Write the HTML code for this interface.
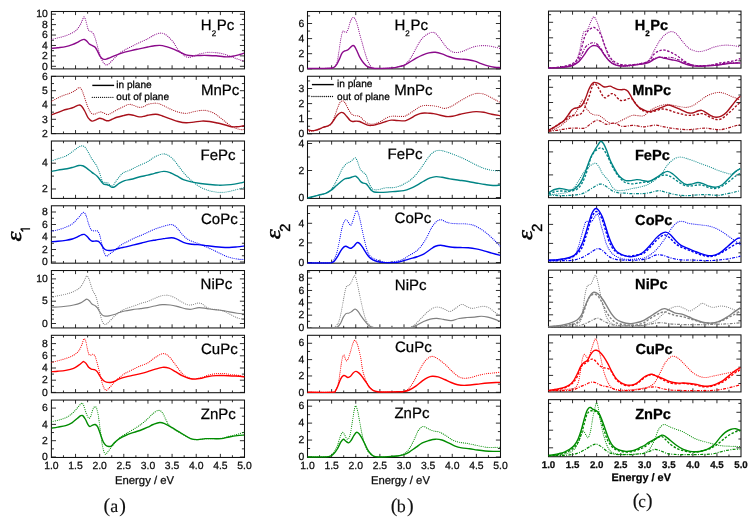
<!DOCTYPE html><html><head><meta charset="utf-8"><style>html,body{margin:0;padding:0;background:#fff;}svg{display:block;will-change:transform;}text{font-family:"Liberation Sans",sans-serif;text-rendering:geometricPrecision;stroke:currentColor;stroke-width:0.25px;}</style></head><body>
<svg width="748" height="517" viewBox="0 0 748 517">
<rect width="748" height="517" fill="#fff"/>
<g stroke="#1a1a1a" stroke-width="0.9">
<path d="M63.47,11.50v2.20M63.47,68.90v-2.20"/>
<path d="M75.54,11.50v3.60M75.54,68.90v-3.60"/>
<path d="M87.61,11.50v2.20M87.61,68.90v-2.20"/>
<path d="M99.67,11.50v3.60M99.67,68.90v-3.60"/>
<path d="M111.74,11.50v2.20M111.74,68.90v-2.20"/>
<path d="M123.81,11.50v3.60M123.81,68.90v-3.60"/>
<path d="M135.88,11.50v2.20M135.88,68.90v-2.20"/>
<path d="M147.95,11.50v3.60M147.95,68.90v-3.60"/>
<path d="M160.02,11.50v2.20M160.02,68.90v-2.20"/>
<path d="M172.09,11.50v3.60M172.09,68.90v-3.60"/>
<path d="M184.16,11.50v2.20M184.16,68.90v-2.20"/>
<path d="M196.22,11.50v3.60M196.22,68.90v-3.60"/>
<path d="M208.29,11.50v2.20M208.29,68.90v-2.20"/>
<path d="M220.36,11.50v3.60M220.36,68.90v-3.60"/>
<path d="M232.43,11.50v2.20M232.43,68.90v-2.20"/>
<path d="M51.40,66.30h4.6M244.50,66.30h-4.6"/>
<path d="M51.40,55.88h4.6M244.50,55.88h-4.6"/>
<path d="M51.40,45.46h4.6M244.50,45.46h-4.6"/>
<path d="M51.40,35.04h4.6M244.50,35.04h-4.6"/>
<path d="M51.40,24.62h4.6M244.50,24.62h-4.6"/>
<path d="M51.40,14.20h4.6M244.50,14.20h-4.6"/>
<path d="M51.40,61.09h2.6M244.50,61.09h-2.6"/>
<path d="M51.40,50.67h2.6M244.50,50.67h-2.6"/>
<path d="M51.40,40.25h2.6M244.50,40.25h-2.6"/>
<path d="M51.40,29.83h2.6M244.50,29.83h-2.6"/>
<path d="M51.40,19.41h2.6M244.50,19.41h-2.6"/>
</g>
<rect x="51.40" y="11.50" width="193.10" height="57.40" fill="none" stroke="#111" stroke-width="1.05"/>
<g clip-path="url(#clipa1)">
<g fill="none" stroke="#8b0a8b" stroke-linejoin="round">
<path d="M51.40,39.44 C52.48,39.18 55.69,38.42 57.86,37.87 C60.03,37.33 62.23,36.89 64.41,36.17 C66.60,35.45 69.00,34.53 70.96,33.55 C72.93,32.57 74.67,31.69 76.20,30.27 C77.73,28.85 79.09,26.78 80.13,25.03 C81.18,23.29 81.84,21.15 82.49,19.79 C83.15,18.44 83.58,17.02 84.06,16.91 C84.54,16.80 84.94,18.00 85.37,19.14 C85.81,20.27 86.25,22.08 86.68,23.72 C87.12,25.36 87.56,27.76 87.99,28.96 C88.43,30.16 88.76,30.49 89.30,30.93 C89.85,31.36 90.61,31.15 91.27,31.58 C91.93,32.02 92.58,32.46 93.24,33.55 C93.89,34.64 94.55,36.17 95.20,38.13 C95.86,40.10 96.51,42.94 97.17,45.34 C97.82,47.74 98.48,50.36 99.13,52.55 C99.79,54.73 100.33,56.69 101.10,58.44 C101.86,60.19 102.84,61.93 103.72,63.03 C104.59,64.12 105.57,64.77 106.34,64.99 C107.10,65.21 107.43,64.99 108.30,64.34 C109.18,63.68 110.38,62.26 111.58,61.06 C112.78,59.86 114.20,58.44 115.51,57.13 C116.82,55.82 117.91,54.40 119.44,53.20 C120.97,52.00 122.71,51.02 124.68,49.93 C126.64,48.83 128.83,47.85 131.23,46.65 C133.63,45.45 136.33,44.03 139.09,42.72 C141.85,41.41 145.45,39.99 147.80,38.79 C150.16,37.59 151.24,36.45 153.24,35.51 C155.24,34.57 157.83,33.37 159.79,33.16 C161.76,32.94 163.29,33.26 165.03,34.20 C166.78,35.14 168.74,37.26 170.27,38.79 C171.80,40.32 173.11,41.85 174.20,43.37 C175.30,44.90 175.73,46.43 176.82,47.96 C177.92,49.49 179.44,51.24 180.75,52.55 C182.06,53.86 183.37,54.99 184.68,55.82 C185.99,56.65 187.30,57.41 188.61,57.52 C189.93,57.63 191.02,56.98 192.55,56.48 C194.07,55.97 196.04,55.06 197.79,54.51 C199.53,53.96 201.06,53.57 203.03,53.20 C204.99,52.83 207.61,52.39 209.58,52.28 C211.54,52.17 213.07,52.39 214.82,52.55 C216.57,52.70 218.31,52.87 220.06,53.20 C221.81,53.53 223.55,53.96 225.30,54.51 C227.05,55.06 228.79,55.82 230.54,56.48 C232.29,57.13 234.14,57.85 235.78,58.44 C237.42,59.03 238.95,59.58 240.37,60.01 C241.79,60.45 243.64,60.89 244.30,61.06" stroke-width="1.15" stroke-dasharray="0.01 2.0" stroke-linecap="round"/>
<path d="M51.40,48.35 C52.48,48.24 55.47,47.98 57.86,47.70 C60.25,47.41 63.32,47.15 65.72,46.65 C68.12,46.15 70.31,45.41 72.27,44.68 C74.24,43.96 75.98,43.09 77.51,42.33 C79.04,41.56 80.31,40.58 81.44,40.10 C82.58,39.62 83.45,39.29 84.33,39.44 C85.20,39.60 85.85,40.25 86.68,41.02 C87.51,41.78 88.43,43.31 89.30,44.03 C90.18,44.75 90.94,44.79 91.93,45.34 C92.91,45.89 94.22,46.21 95.20,47.30 C96.18,48.40 96.99,50.36 97.82,51.89 C98.65,53.42 99.46,55.36 100.18,56.48 C100.90,57.59 101.49,58.09 102.14,58.57 C102.80,59.05 103.41,59.27 104.11,59.36 C104.81,59.45 105.42,59.36 106.34,59.10 C107.25,58.83 108.30,58.33 109.61,57.79 C110.92,57.24 112.56,56.48 114.20,55.82 C115.84,55.17 117.69,54.47 119.44,53.86 C121.19,53.24 122.71,52.70 124.68,52.15 C126.64,51.61 128.83,51.13 131.23,50.58 C133.63,50.03 136.33,49.47 139.09,48.88 C141.85,48.29 145.45,47.52 147.80,47.04 C150.16,46.56 151.24,46.28 153.24,45.99 C155.24,45.71 157.61,45.23 159.79,45.34 C161.98,45.45 164.16,46.06 166.34,46.65 C168.53,47.24 170.71,48.00 172.89,48.88 C175.08,49.75 177.26,50.89 179.44,51.89 C181.63,52.89 183.81,54.25 185.99,54.90 C188.18,55.56 190.14,55.73 192.55,55.82 C194.95,55.91 197.79,55.49 200.41,55.43 C203.03,55.36 205.65,55.36 208.27,55.43 C210.89,55.49 213.51,55.60 216.13,55.82 C218.75,56.04 221.81,56.59 223.99,56.74 C226.17,56.89 227.48,56.89 229.23,56.74 C230.98,56.59 232.72,56.19 234.47,55.82 C236.22,55.45 238.07,54.95 239.71,54.51 C241.35,54.07 243.53,53.42 244.30,53.20" stroke-width="1.4"/>
</g>
</g>
<clipPath id="clipa1"><rect x="51.40" y="10.90" width="193.10" height="58.60"/></clipPath>
<text x="47.80" y="69.50" font-size="10.4" text-anchor="end" fill="#111">0</text>
<text x="47.80" y="59.08" font-size="10.4" text-anchor="end" fill="#111">2</text>
<text x="47.80" y="48.66" font-size="10.4" text-anchor="end" fill="#111">4</text>
<text x="47.80" y="38.24" font-size="10.4" text-anchor="end" fill="#111">6</text>
<text x="47.80" y="27.82" font-size="10.4" text-anchor="end" fill="#111">8</text>
<text x="47.80" y="17.40" font-size="10.4" text-anchor="end" fill="#111">10</text>
<text x="200.80" y="29.90" font-size="15" fill="#000">H<tspan font-size="8" dy="5.8">2</tspan><tspan dy="-5.8" dx="0.6">Pc</tspan></text>
<g stroke="#1a1a1a" stroke-width="0.9">
<path d="M63.47,76.26v2.20M63.47,133.66v-2.20"/>
<path d="M75.54,76.26v3.60M75.54,133.66v-3.60"/>
<path d="M87.61,76.26v2.20M87.61,133.66v-2.20"/>
<path d="M99.67,76.26v3.60M99.67,133.66v-3.60"/>
<path d="M111.74,76.26v2.20M111.74,133.66v-2.20"/>
<path d="M123.81,76.26v3.60M123.81,133.66v-3.60"/>
<path d="M135.88,76.26v2.20M135.88,133.66v-2.20"/>
<path d="M147.95,76.26v3.60M147.95,133.66v-3.60"/>
<path d="M160.02,76.26v2.20M160.02,133.66v-2.20"/>
<path d="M172.09,76.26v3.60M172.09,133.66v-3.60"/>
<path d="M184.16,76.26v2.20M184.16,133.66v-2.20"/>
<path d="M196.22,76.26v3.60M196.22,133.66v-3.60"/>
<path d="M208.29,76.26v2.20M208.29,133.66v-2.20"/>
<path d="M220.36,76.26v3.60M220.36,133.66v-3.60"/>
<path d="M232.43,76.26v2.20M232.43,133.66v-2.20"/>
<path d="M51.40,133.60h4.6M244.50,133.60h-4.6"/>
<path d="M51.40,119.30h4.6M244.50,119.30h-4.6"/>
<path d="M51.40,105.00h4.6M244.50,105.00h-4.6"/>
<path d="M51.40,90.70h4.6M244.50,90.70h-4.6"/>
<path d="M51.40,76.40h4.6M244.50,76.40h-4.6"/>
<path d="M51.40,126.45h2.6M244.50,126.45h-2.6"/>
<path d="M51.40,112.15h2.6M244.50,112.15h-2.6"/>
<path d="M51.40,97.85h2.6M244.50,97.85h-2.6"/>
<path d="M51.40,83.55h2.6M244.50,83.55h-2.6"/>
</g>
<rect x="51.40" y="76.26" width="193.10" height="57.40" fill="none" stroke="#111" stroke-width="1.05"/>
<g clip-path="url(#clipa2)">
<g fill="none" stroke="#a8101a" stroke-linejoin="round">
<path d="M51.40,101.56 C52.26,101.06 54.60,99.55 56.55,98.55 C58.50,97.54 60.92,96.41 63.10,95.53 C65.29,94.66 67.69,94.12 69.65,93.31 C71.62,92.50 73.36,91.63 74.89,90.69 C76.42,89.75 77.73,87.89 78.82,87.67 C79.92,87.46 80.57,88.00 81.44,89.38 C82.32,90.75 83.08,93.20 84.06,95.93 C85.05,98.66 86.25,103.02 87.34,105.75 C88.43,108.48 89.52,110.89 90.61,112.30 C91.71,113.72 92.80,114.16 93.89,114.27 C94.98,114.38 96.07,113.35 97.17,112.96 C98.26,112.57 99.35,111.91 100.44,111.91 C101.53,111.91 102.52,112.50 103.72,112.96 C104.92,113.42 106.34,114.66 107.65,114.66 C108.96,114.66 110.05,113.75 111.58,112.96 C113.11,112.17 115.07,110.89 116.82,109.95 C118.57,109.01 120.09,108.24 122.06,107.33 C124.02,106.41 126.64,104.75 128.61,104.44 C130.57,104.14 132.10,105.01 133.85,105.49 C135.60,105.97 137.34,107.17 139.09,107.33 C140.84,107.48 142.88,106.89 144.33,106.41 C145.78,105.93 145.88,104.99 147.80,104.44 C149.73,103.90 153.43,103.02 155.86,103.13 C158.30,103.24 160.01,104.12 162.41,105.10 C164.81,106.08 167.65,107.87 170.27,109.03 C172.89,110.19 175.51,111.32 178.13,112.04 C180.75,112.76 183.37,113.42 185.99,113.35 C188.61,113.29 191.24,112.15 193.86,111.65 C196.48,111.15 199.53,110.49 201.72,110.34 C203.90,110.19 204.99,110.30 206.96,110.73 C208.92,111.17 211.32,111.82 213.51,112.96 C215.69,114.10 217.88,115.91 220.06,117.55 C222.24,119.18 224.64,121.26 226.61,122.79 C228.57,124.31 230.10,125.73 231.85,126.72 C233.60,127.70 235.56,128.20 237.09,128.68 C238.62,129.16 239.82,129.49 241.02,129.60 C242.22,129.71 243.75,129.38 244.30,129.34" stroke-width="1.15" stroke-dasharray="0.01 2.0" stroke-linecap="round"/>
<path d="M51.40,114.93 C52.26,114.60 54.60,113.72 56.55,112.96 C58.50,112.20 60.92,111.06 63.10,110.34 C65.29,109.62 67.80,109.18 69.65,108.64 C71.51,108.09 72.71,107.65 74.24,107.06 C75.77,106.47 77.62,105.27 78.82,105.10 C80.02,104.92 80.46,105.03 81.44,106.02 C82.43,107.00 83.63,109.07 84.72,110.99 C85.81,112.92 86.79,115.86 87.99,117.55 C89.20,119.23 90.61,120.69 91.93,121.08 C93.24,121.48 94.55,120.38 95.86,119.90 C97.17,119.42 98.48,118.27 99.79,118.20 C101.10,118.14 102.41,119.07 103.72,119.51 C105.03,119.95 106.34,120.82 107.65,120.82 C108.96,120.82 110.05,120.10 111.58,119.51 C113.11,118.92 114.85,117.94 116.82,117.28 C118.78,116.63 121.40,116.04 123.37,115.58 C125.33,115.12 126.86,114.58 128.61,114.53 C130.36,114.49 132.10,114.93 133.85,115.32 C135.60,115.71 137.34,116.74 139.09,116.89 C140.84,117.04 142.88,116.52 144.33,116.24 C145.78,115.95 145.88,115.51 147.80,115.19 C149.73,114.86 153.43,114.14 155.86,114.27 C158.30,114.40 160.01,115.21 162.41,115.97 C164.81,116.74 167.65,117.94 170.27,118.86 C172.89,119.77 175.51,120.82 178.13,121.48 C180.75,122.13 183.37,122.68 185.99,122.79 C188.61,122.90 191.24,122.41 193.86,122.13 C196.48,121.85 199.10,121.19 201.72,121.08 C204.34,120.97 206.96,121.15 209.58,121.48 C212.20,121.80 214.82,122.46 217.44,123.05 C220.06,123.64 222.90,124.40 225.30,125.01 C227.70,125.62 229.89,126.43 231.85,126.72 C233.82,127.00 235.34,126.83 237.09,126.72 C238.84,126.61 241.13,126.24 242.33,126.06 C243.53,125.89 243.97,125.73 244.30,125.67" stroke-width="1.4"/>
</g>
</g>
<clipPath id="clipa2"><rect x="51.40" y="75.66" width="193.10" height="58.60"/></clipPath>
<text x="47.80" y="136.80" font-size="10.4" text-anchor="end" fill="#111">2</text>
<text x="47.80" y="122.50" font-size="10.4" text-anchor="end" fill="#111">3</text>
<text x="47.80" y="108.20" font-size="10.4" text-anchor="end" fill="#111">4</text>
<text x="47.80" y="93.90" font-size="10.4" text-anchor="end" fill="#111">5</text>
<text x="47.80" y="79.60" font-size="10.4" text-anchor="end" fill="#111">6</text>
<text x="200.90" y="94.76" font-size="15" fill="#000">MnPc</text>
<g stroke="#1a1a1a" stroke-width="0.9">
<path d="M63.47,141.02v2.20M63.47,198.42v-2.20"/>
<path d="M75.54,141.02v3.60M75.54,198.42v-3.60"/>
<path d="M87.61,141.02v2.20M87.61,198.42v-2.20"/>
<path d="M99.67,141.02v3.60M99.67,198.42v-3.60"/>
<path d="M111.74,141.02v2.20M111.74,198.42v-2.20"/>
<path d="M123.81,141.02v3.60M123.81,198.42v-3.60"/>
<path d="M135.88,141.02v2.20M135.88,198.42v-2.20"/>
<path d="M147.95,141.02v3.60M147.95,198.42v-3.60"/>
<path d="M160.02,141.02v2.20M160.02,198.42v-2.20"/>
<path d="M172.09,141.02v3.60M172.09,198.42v-3.60"/>
<path d="M184.16,141.02v2.20M184.16,198.42v-2.20"/>
<path d="M196.22,141.02v3.60M196.22,198.42v-3.60"/>
<path d="M208.29,141.02v2.20M208.29,198.42v-2.20"/>
<path d="M220.36,141.02v3.60M220.36,198.42v-3.60"/>
<path d="M232.43,141.02v2.20M232.43,198.42v-2.20"/>
<path d="M51.40,189.00h4.6M244.50,189.00h-4.6"/>
<path d="M51.40,163.20h4.6M244.50,163.20h-4.6"/>
<path d="M51.40,176.10h2.6M244.50,176.10h-2.6"/>
<path d="M51.40,150.30h2.6M244.50,150.30h-2.6"/>
</g>
<rect x="51.40" y="141.02" width="193.10" height="57.40" fill="none" stroke="#111" stroke-width="1.05"/>
<g clip-path="url(#clipa3)">
<g fill="none" stroke="#008585" stroke-linejoin="round">
<path d="M51.40,160.93 C52.48,160.56 55.47,159.51 57.86,158.70 C60.25,157.89 63.32,157.24 65.72,156.08 C68.12,154.92 70.31,153.13 72.27,151.76 C74.24,150.38 75.98,148.81 77.51,147.83 C79.04,146.84 80.24,146.01 81.44,145.86 C82.64,145.71 83.63,145.93 84.72,146.91 C85.81,147.89 86.79,149.75 87.99,151.76 C89.20,153.77 90.51,156.67 91.93,158.96 C93.34,161.26 95.20,163.11 96.51,165.51 C97.82,167.92 98.80,170.75 99.79,173.37 C100.77,175.99 101.53,179.71 102.41,181.24 C103.28,182.76 104.15,182.28 105.03,182.55 C105.90,182.81 106.77,182.37 107.65,182.81 C108.52,183.24 109.44,184.60 110.27,185.17 C111.10,185.73 111.75,186.76 112.63,186.21 C113.50,185.67 114.37,183.48 115.51,181.89 C116.64,180.30 118.13,178.18 119.44,176.65 C120.75,175.12 121.62,173.81 123.37,172.72 C125.12,171.63 127.52,171.19 129.92,170.10 C132.32,169.01 134.80,167.59 137.78,166.17 C140.76,164.75 145.01,163.11 147.80,161.58 C150.60,160.05 152.12,158.26 154.55,157.00 C156.99,155.73 160.23,154.31 162.41,153.98 C164.60,153.66 165.91,154.20 167.65,155.03 C169.40,155.86 171.15,157.22 172.89,158.96 C174.64,160.71 176.39,163.29 178.13,165.51 C179.88,167.74 181.63,170.25 183.37,172.33 C185.12,174.40 186.87,176.26 188.61,177.96 C190.36,179.66 191.89,181.02 193.86,182.55 C195.82,184.07 198.22,185.89 200.41,187.13 C202.59,188.38 204.77,189.25 206.96,190.01 C209.14,190.78 211.11,191.32 213.51,191.72 C215.91,192.11 218.97,192.37 221.37,192.37 C223.77,192.37 225.74,192.09 227.92,191.72 C230.10,191.35 232.29,190.69 234.47,190.14 C236.65,189.60 239.38,188.88 241.02,188.44 C242.66,188.00 243.75,187.68 244.30,187.52" stroke-width="1.15" stroke-dasharray="0.01 2.0" stroke-linecap="round"/>
<path d="M51.40,171.41 C52.48,171.19 55.26,170.54 57.86,170.10 C60.47,169.66 64.41,169.29 67.03,168.79 C69.65,168.29 71.62,167.63 73.58,167.09 C75.55,166.54 77.30,165.73 78.82,165.51 C80.35,165.30 81.44,165.34 82.75,165.78 C84.06,166.21 85.16,167.04 86.68,168.13 C88.21,169.23 90.18,170.97 91.93,172.33 C93.67,173.68 95.64,174.77 97.17,176.26 C98.69,177.74 100.00,179.93 101.10,181.24 C102.19,182.55 102.84,183.57 103.72,184.12 C104.59,184.66 105.46,184.29 106.34,184.51 C107.21,184.73 107.97,184.95 108.96,185.43 C109.94,185.91 111.14,187.26 112.23,187.39 C113.32,187.52 114.31,186.91 115.51,186.21 C116.71,185.52 117.91,184.14 119.44,183.20 C120.97,182.26 122.71,181.24 124.68,180.58 C126.64,179.93 128.83,179.86 131.23,179.27 C133.63,178.68 136.33,177.73 139.09,177.04 C141.85,176.35 145.23,175.75 147.80,175.14 C150.38,174.53 151.90,174.00 154.55,173.37 C157.20,172.75 161.10,171.52 163.72,171.41 C166.34,171.30 168.09,171.95 170.27,172.72 C172.46,173.48 174.64,174.84 176.82,175.99 C179.01,177.15 180.97,178.68 183.37,179.66 C185.78,180.65 188.40,181.26 191.24,181.89 C194.07,182.52 197.35,183.03 200.41,183.46 C203.46,183.90 206.52,184.23 209.58,184.51 C212.63,184.79 215.91,185.10 218.75,185.17 C221.59,185.23 223.99,185.08 226.61,184.90 C229.23,184.73 232.07,184.47 234.47,184.12 C236.87,183.77 239.38,183.18 241.02,182.81 C242.66,182.44 243.75,182.04 244.30,181.89" stroke-width="1.4"/>
</g>
</g>
<clipPath id="clipa3"><rect x="51.40" y="140.42" width="193.10" height="58.60"/></clipPath>
<text x="47.80" y="192.20" font-size="10.4" text-anchor="end" fill="#111">2</text>
<text x="47.80" y="166.40" font-size="10.4" text-anchor="end" fill="#111">4</text>
<text x="200.60" y="159.52" font-size="15" fill="#000">FePc</text>
<g stroke="#1a1a1a" stroke-width="0.9">
<path d="M63.47,205.78v2.20M63.47,263.18v-2.20"/>
<path d="M75.54,205.78v3.60M75.54,263.18v-3.60"/>
<path d="M87.61,205.78v2.20M87.61,263.18v-2.20"/>
<path d="M99.67,205.78v3.60M99.67,263.18v-3.60"/>
<path d="M111.74,205.78v2.20M111.74,263.18v-2.20"/>
<path d="M123.81,205.78v3.60M123.81,263.18v-3.60"/>
<path d="M135.88,205.78v2.20M135.88,263.18v-2.20"/>
<path d="M147.95,205.78v3.60M147.95,263.18v-3.60"/>
<path d="M160.02,205.78v2.20M160.02,263.18v-2.20"/>
<path d="M172.09,205.78v3.60M172.09,263.18v-3.60"/>
<path d="M184.16,205.78v2.20M184.16,263.18v-2.20"/>
<path d="M196.22,205.78v3.60M196.22,263.18v-3.60"/>
<path d="M208.29,205.78v2.20M208.29,263.18v-2.20"/>
<path d="M220.36,205.78v3.60M220.36,263.18v-3.60"/>
<path d="M232.43,205.78v2.20M232.43,263.18v-2.20"/>
<path d="M51.40,262.00h4.6M244.50,262.00h-4.6"/>
<path d="M51.40,249.50h4.6M244.50,249.50h-4.6"/>
<path d="M51.40,237.00h4.6M244.50,237.00h-4.6"/>
<path d="M51.40,224.50h4.6M244.50,224.50h-4.6"/>
<path d="M51.40,212.00h4.6M244.50,212.00h-4.6"/>
<path d="M51.40,255.75h2.6M244.50,255.75h-2.6"/>
<path d="M51.40,243.25h2.6M244.50,243.25h-2.6"/>
<path d="M51.40,230.75h2.6M244.50,230.75h-2.6"/>
<path d="M51.40,218.25h2.6M244.50,218.25h-2.6"/>
</g>
<rect x="51.40" y="205.78" width="193.10" height="57.40" fill="none" stroke="#111" stroke-width="1.05"/>
<g clip-path="url(#clipa4)">
<g fill="none" stroke="#0000f5" stroke-linejoin="round">
<path d="M51.40,231.17 C52.48,230.95 55.47,230.51 57.86,229.86 C60.25,229.20 63.32,228.22 65.72,227.24 C68.12,226.26 70.31,225.38 72.27,223.96 C74.24,222.54 75.98,220.36 77.51,218.72 C79.04,217.08 80.40,215.18 81.44,214.14 C82.49,213.09 83.04,212.21 83.80,212.43 C84.57,212.65 85.22,213.52 86.03,215.45 C86.84,217.37 87.78,221.56 88.65,223.96 C89.52,226.36 90.29,228.70 91.27,229.86 C92.25,231.02 93.56,230.75 94.55,230.91 C95.53,231.06 96.34,230.19 97.17,230.78 C98.00,231.36 98.76,232.30 99.52,234.44 C100.29,236.58 101.05,240.78 101.75,243.61 C102.45,246.45 103.00,249.40 103.72,251.48 C104.44,253.55 105.31,255.45 106.07,256.06 C106.84,256.67 107.39,255.73 108.30,255.14 C109.22,254.55 110.38,253.46 111.58,252.52 C112.78,251.59 113.98,250.73 115.51,249.51 C117.04,248.29 118.78,246.50 120.75,245.19 C122.71,243.88 124.90,242.89 127.30,241.65 C129.70,240.41 132.76,238.81 135.16,237.72 C137.56,236.63 139.60,236.01 141.71,235.10 C143.82,234.19 145.66,233.26 147.80,232.28 C149.94,231.30 152.12,230.15 154.55,229.20 C156.99,228.25 159.79,227.35 162.41,226.58 C165.03,225.82 168.31,224.79 170.27,224.62 C172.24,224.44 172.89,224.77 174.20,225.53 C175.51,226.30 176.82,227.76 178.13,229.20 C179.44,230.64 180.54,232.54 182.06,234.18 C183.59,235.82 185.34,237.72 187.30,239.03 C189.27,240.34 191.67,241.17 193.86,242.04 C196.04,242.92 198.22,243.40 200.41,244.27 C202.59,245.14 204.77,246.30 206.96,247.28 C209.14,248.27 211.32,249.14 213.51,250.17 C215.69,251.19 217.88,252.39 220.06,253.44 C222.24,254.49 224.43,255.65 226.61,256.45 C228.79,257.26 230.98,257.81 233.16,258.29 C235.34,258.77 237.86,259.16 239.71,259.34 C241.57,259.51 243.53,259.34 244.30,259.34" stroke-width="1.15" stroke-dasharray="0.01 2.0" stroke-linecap="round"/>
<path d="M51.40,241.65 C52.48,241.58 55.47,241.48 57.86,241.26 C60.25,241.04 63.32,240.71 65.72,240.34 C68.12,239.97 70.31,239.62 72.27,239.03 C74.24,238.44 75.98,237.50 77.51,236.80 C79.04,236.10 80.31,235.23 81.44,234.84 C82.58,234.44 83.34,234.12 84.33,234.44 C85.31,234.77 86.40,235.93 87.34,236.80 C88.28,237.68 89.09,238.94 89.96,239.68 C90.83,240.43 91.60,241.04 92.58,241.26 C93.56,241.48 94.87,240.97 95.86,240.99 C96.84,241.02 97.60,240.84 98.48,241.39 C99.35,241.93 100.22,243.13 101.10,244.27 C101.97,245.41 102.84,247.22 103.72,248.20 C104.59,249.18 105.25,249.79 106.34,250.17 C107.43,250.54 108.96,250.47 110.27,250.43 C111.58,250.38 112.67,250.27 114.20,249.90 C115.73,249.53 117.47,248.70 119.44,248.20 C121.40,247.70 123.59,247.44 125.99,246.89 C128.39,246.34 131.23,245.58 133.85,244.93 C136.47,244.27 139.39,243.55 141.71,242.96 C144.04,242.37 145.45,241.89 147.80,241.39 C150.16,240.89 153.21,240.41 155.86,239.95 C158.51,239.49 161.10,239.01 163.72,238.64 C166.34,238.27 169.40,237.65 171.58,237.72 C173.77,237.78 174.86,238.27 176.82,239.03 C178.79,239.79 181.19,241.48 183.37,242.30 C185.56,243.13 187.52,243.61 189.93,244.01 C192.33,244.40 195.17,244.40 197.79,244.66 C200.41,244.93 203.03,245.27 205.65,245.58 C208.27,245.89 210.89,246.21 213.51,246.50 C216.13,246.78 218.75,247.11 221.37,247.28 C223.99,247.46 226.61,247.61 229.23,247.55 C231.85,247.48 234.58,247.15 237.09,246.89 C239.60,246.63 243.10,246.13 244.30,245.97" stroke-width="1.4"/>
</g>
</g>
<clipPath id="clipa4"><rect x="51.40" y="205.18" width="193.10" height="58.60"/></clipPath>
<text x="47.80" y="265.20" font-size="10.4" text-anchor="end" fill="#111">0</text>
<text x="47.80" y="252.70" font-size="10.4" text-anchor="end" fill="#111">2</text>
<text x="47.80" y="240.20" font-size="10.4" text-anchor="end" fill="#111">4</text>
<text x="47.80" y="227.70" font-size="10.4" text-anchor="end" fill="#111">6</text>
<text x="47.80" y="215.20" font-size="10.4" text-anchor="end" fill="#111">8</text>
<text x="201.00" y="224.28" font-size="15" fill="#000">CoPc</text>
<g stroke="#1a1a1a" stroke-width="0.9">
<path d="M63.47,270.54v2.20M63.47,327.94v-2.20"/>
<path d="M75.54,270.54v3.60M75.54,327.94v-3.60"/>
<path d="M87.61,270.54v2.20M87.61,327.94v-2.20"/>
<path d="M99.67,270.54v3.60M99.67,327.94v-3.60"/>
<path d="M111.74,270.54v2.20M111.74,327.94v-2.20"/>
<path d="M123.81,270.54v3.60M123.81,327.94v-3.60"/>
<path d="M135.88,270.54v2.20M135.88,327.94v-2.20"/>
<path d="M147.95,270.54v3.60M147.95,327.94v-3.60"/>
<path d="M160.02,270.54v2.20M160.02,327.94v-2.20"/>
<path d="M172.09,270.54v3.60M172.09,327.94v-3.60"/>
<path d="M184.16,270.54v2.20M184.16,327.94v-2.20"/>
<path d="M196.22,270.54v3.60M196.22,327.94v-3.60"/>
<path d="M208.29,270.54v2.20M208.29,327.94v-2.20"/>
<path d="M220.36,270.54v3.60M220.36,327.94v-3.60"/>
<path d="M232.43,270.54v2.20M232.43,327.94v-2.20"/>
<path d="M51.40,323.50h4.6M244.50,323.50h-4.6"/>
<path d="M51.40,301.20h4.6M244.50,301.20h-4.6"/>
<path d="M51.40,278.90h4.6M244.50,278.90h-4.6"/>
<path d="M51.40,319.04h2.6M244.50,319.04h-2.6"/>
<path d="M51.40,314.58h2.6M244.50,314.58h-2.6"/>
<path d="M51.40,310.12h2.6M244.50,310.12h-2.6"/>
<path d="M51.40,305.66h2.6M244.50,305.66h-2.6"/>
<path d="M51.40,296.74h2.6M244.50,296.74h-2.6"/>
<path d="M51.40,292.28h2.6M244.50,292.28h-2.6"/>
<path d="M51.40,287.82h2.6M244.50,287.82h-2.6"/>
<path d="M51.40,283.36h2.6M244.50,283.36h-2.6"/>
<path d="M51.40,274.44h2.6M244.50,274.44h-2.6"/>
</g>
<rect x="51.40" y="270.54" width="193.10" height="57.40" fill="none" stroke="#111" stroke-width="1.05"/>
<g clip-path="url(#clipa5)">
<g fill="none" stroke="#808080" stroke-linejoin="round">
<path d="M51.40,297.09 C52.48,296.87 55.47,296.26 57.86,295.78 C60.25,295.30 63.10,294.90 65.72,294.20 C68.34,293.50 71.18,292.72 73.58,291.58 C75.98,290.45 78.39,289.14 80.13,287.39 C81.88,285.64 82.97,283.02 84.06,281.10 C85.16,279.18 85.85,276.19 86.68,275.86 C87.51,275.53 88.28,277.39 89.04,279.14 C89.81,280.88 90.57,284.27 91.27,286.34 C91.97,288.42 92.51,290.05 93.24,291.58 C93.96,293.11 94.89,293.77 95.59,295.51 C96.29,297.26 96.73,299.23 97.43,302.06 C98.13,304.90 98.96,309.27 99.79,312.55 C100.62,315.82 101.53,319.71 102.41,321.72 C103.28,323.73 104.15,324.38 105.03,324.60 C105.90,324.82 106.56,323.94 107.65,323.03 C108.74,322.11 110.27,320.41 111.58,319.10 C112.89,317.79 113.98,316.48 115.51,315.17 C117.04,313.86 119.00,312.33 120.75,311.24 C122.50,310.14 123.81,309.49 125.99,308.61 C128.17,307.74 131.23,306.91 133.85,305.99 C136.47,305.08 139.39,303.88 141.71,303.11 C144.04,302.35 145.66,302.20 147.80,301.41 C149.94,300.62 152.33,299.31 154.55,298.40 C156.77,297.48 158.92,296.43 161.10,295.91 C163.29,295.38 165.47,294.99 167.65,295.25 C169.84,295.51 172.02,296.45 174.20,297.48 C176.39,298.50 178.57,300.21 180.75,301.41 C182.94,302.61 185.34,304.14 187.30,304.68 C189.27,305.23 190.80,304.95 192.55,304.68 C194.29,304.42 196.26,303.29 197.79,303.11 C199.31,302.94 200.41,303.05 201.72,303.64 C203.03,304.23 204.34,305.82 205.65,306.65 C206.96,307.48 207.61,308.11 209.58,308.61 C211.54,309.12 215.04,309.23 217.44,309.66 C219.84,310.10 221.81,310.43 223.99,311.24 C226.17,312.04 228.36,313.42 230.54,314.51 C232.72,315.60 235.13,317.02 237.09,317.79 C239.06,318.55 241.13,318.88 242.33,319.10 C243.53,319.31 243.97,319.10 244.30,319.10" stroke-width="1.15" stroke-dasharray="0.01 2.05" stroke-linecap="round"/>
<path d="M51.40,307.04 C52.48,307.04 55.47,307.17 57.86,307.04 C60.25,306.91 63.10,306.61 65.72,306.26 C68.34,305.91 71.18,305.47 73.58,304.95 C75.98,304.42 78.39,303.81 80.13,303.11 C81.88,302.41 82.97,301.41 84.06,300.75 C85.16,300.10 85.81,299.18 86.68,299.18 C87.56,299.18 88.43,299.95 89.30,300.75 C90.18,301.56 90.94,303.20 91.93,304.03 C92.91,304.86 94.28,305.08 95.20,305.73 C96.12,306.39 96.66,306.93 97.43,307.96 C98.19,308.99 98.96,310.69 99.79,311.89 C100.62,313.09 101.53,314.47 102.41,315.17 C103.28,315.86 103.93,315.97 105.03,316.08 C106.12,316.19 107.43,316.08 108.96,315.82 C110.49,315.56 112.45,315.06 114.20,314.51 C115.94,313.96 117.69,313.14 119.44,312.55 C121.19,311.96 122.50,311.45 124.68,310.97 C126.86,310.49 129.92,310.06 132.54,309.66 C135.16,309.27 137.86,308.96 140.40,308.61 C142.94,308.27 145.45,308.00 147.80,307.57 C150.16,307.13 152.12,306.48 154.55,305.99 C156.99,305.51 159.79,304.86 162.41,304.68 C165.03,304.51 167.65,304.62 170.27,304.95 C172.89,305.27 175.51,305.99 178.13,306.65 C180.75,307.30 183.81,308.44 185.99,308.88 C188.18,309.31 189.05,309.49 191.24,309.27 C193.42,309.05 196.48,307.68 199.10,307.57 C201.72,307.46 204.34,308.27 206.96,308.61 C209.58,308.96 212.20,309.34 214.82,309.66 C217.44,309.99 220.28,310.21 222.68,310.58 C225.08,310.95 226.83,311.45 229.23,311.89 C231.63,312.33 234.58,312.87 237.09,313.20 C239.60,313.53 243.10,313.75 244.30,313.86" stroke-width="1.15"/>
</g>
</g>
<clipPath id="clipa5"><rect x="51.40" y="269.94" width="193.10" height="58.60"/></clipPath>
<text x="47.80" y="326.70" font-size="10.4" text-anchor="end" fill="#111">0</text>
<text x="47.80" y="304.40" font-size="10.4" text-anchor="end" fill="#111">5</text>
<text x="47.80" y="282.10" font-size="10.4" text-anchor="end" fill="#111">10</text>
<text x="200.60" y="289.04" font-size="15" fill="#000">NiPc</text>
<g stroke="#1a1a1a" stroke-width="0.9">
<path d="M63.47,335.30v2.20M63.47,392.70v-2.20"/>
<path d="M75.54,335.30v3.60M75.54,392.70v-3.60"/>
<path d="M87.61,335.30v2.20M87.61,392.70v-2.20"/>
<path d="M99.67,335.30v3.60M99.67,392.70v-3.60"/>
<path d="M111.74,335.30v2.20M111.74,392.70v-2.20"/>
<path d="M123.81,335.30v3.60M123.81,392.70v-3.60"/>
<path d="M135.88,335.30v2.20M135.88,392.70v-2.20"/>
<path d="M147.95,335.30v3.60M147.95,392.70v-3.60"/>
<path d="M160.02,335.30v2.20M160.02,392.70v-2.20"/>
<path d="M172.09,335.30v3.60M172.09,392.70v-3.60"/>
<path d="M184.16,335.30v2.20M184.16,392.70v-2.20"/>
<path d="M196.22,335.30v3.60M196.22,392.70v-3.60"/>
<path d="M208.29,335.30v2.20M208.29,392.70v-2.20"/>
<path d="M220.36,335.30v3.60M220.36,392.70v-3.60"/>
<path d="M232.43,335.30v2.20M232.43,392.70v-2.20"/>
<path d="M51.40,392.40h4.6M244.50,392.40h-4.6"/>
<path d="M51.40,380.20h4.6M244.50,380.20h-4.6"/>
<path d="M51.40,368.00h4.6M244.50,368.00h-4.6"/>
<path d="M51.40,355.80h4.6M244.50,355.80h-4.6"/>
<path d="M51.40,343.60h4.6M244.50,343.60h-4.6"/>
<path d="M51.40,386.30h2.6M244.50,386.30h-2.6"/>
<path d="M51.40,374.10h2.6M244.50,374.10h-2.6"/>
<path d="M51.40,361.90h2.6M244.50,361.90h-2.6"/>
<path d="M51.40,349.70h2.6M244.50,349.70h-2.6"/>
<path d="M51.40,337.50h2.6M244.50,337.50h-2.6"/>
</g>
<rect x="51.40" y="335.30" width="193.10" height="57.40" fill="none" stroke="#111" stroke-width="1.05"/>
<g clip-path="url(#clipa6)">
<g fill="none" stroke="#ff0000" stroke-linejoin="round">
<path d="M51.40,362.48 C52.48,362.19 55.47,361.43 57.86,360.78 C60.25,360.12 63.10,359.47 65.72,358.55 C68.34,357.63 71.40,356.58 73.58,355.27 C75.77,353.96 77.40,352.54 78.82,350.69 C80.24,348.83 81.27,346.10 82.10,344.14 C82.93,342.17 83.21,339.44 83.80,338.90 C84.39,338.35 85.05,339.22 85.64,340.86 C86.23,342.50 86.77,346.43 87.34,348.72 C87.91,351.01 88.39,353.57 89.04,354.62 C89.70,355.67 90.57,355.08 91.27,355.01 C91.97,354.95 92.58,353.96 93.24,354.22 C93.89,354.49 94.55,355.10 95.20,356.58 C95.86,358.07 96.45,360.51 97.17,363.13 C97.89,365.75 98.76,369.25 99.52,372.30 C100.29,375.36 101.05,378.96 101.75,381.48 C102.45,383.99 103.00,385.89 103.72,387.37 C104.44,388.86 105.31,390.17 106.07,390.39 C106.84,390.60 107.39,389.51 108.30,388.68 C109.22,387.85 110.49,386.61 111.58,385.41 C112.67,384.21 113.54,382.79 114.85,381.48 C116.16,380.17 117.80,378.86 119.44,377.55 C121.08,376.24 122.71,374.82 124.68,373.61 C126.64,372.41 128.83,371.54 131.23,370.34 C133.63,369.14 136.33,367.64 139.09,366.41 C141.85,365.18 145.23,364.36 147.80,362.94 C150.38,361.52 152.12,359.43 154.55,357.89 C156.99,356.35 160.23,354.14 162.41,353.70 C164.60,353.26 165.91,354.03 167.65,355.27 C169.40,356.52 171.15,358.98 172.89,361.17 C174.64,363.35 176.39,366.13 178.13,368.37 C179.88,370.62 181.41,373.03 183.37,374.66 C185.34,376.30 187.96,377.50 189.93,378.20 C191.89,378.90 193.20,378.96 195.17,378.86 C197.13,378.75 199.31,378.24 201.72,377.55 C204.12,376.85 206.96,375.32 209.58,374.66 C212.20,374.01 215.04,373.79 217.44,373.61 C219.84,373.44 221.59,373.44 223.99,373.61 C226.39,373.79 229.23,374.34 231.85,374.66 C234.47,374.99 237.64,375.21 239.71,375.58 C241.79,375.95 243.53,376.67 244.30,376.89" stroke-width="1.15" stroke-dasharray="0.01 2.0" stroke-linecap="round"/>
<path d="M51.40,371.65 C52.48,371.58 55.47,371.48 57.86,371.26 C60.25,371.04 63.10,370.82 65.72,370.34 C68.34,369.86 71.40,369.25 73.58,368.37 C75.77,367.50 77.40,366.08 78.82,365.10 C80.24,364.12 81.27,363.07 82.10,362.48 C82.93,361.89 83.15,361.41 83.80,361.56 C84.46,361.71 85.22,362.43 86.03,363.40 C86.84,364.36 87.78,366.39 88.65,367.33 C89.52,368.27 90.29,368.64 91.27,369.03 C92.25,369.42 93.56,369.25 94.55,369.68 C95.53,370.12 96.18,370.45 97.17,371.65 C98.15,372.85 99.35,375.36 100.44,376.89 C101.53,378.42 102.73,379.95 103.72,380.82 C104.70,381.69 105.25,381.85 106.34,382.13 C107.43,382.41 108.96,382.63 110.27,382.52 C111.58,382.41 112.67,382.09 114.20,381.48 C115.73,380.86 117.47,379.62 119.44,378.86 C121.40,378.09 123.59,377.50 125.99,376.89 C128.39,376.28 131.23,375.78 133.85,375.19 C136.47,374.60 139.39,373.94 141.71,373.35 C144.04,372.76 145.66,372.30 147.80,371.65 C149.94,370.99 152.12,370.14 154.55,369.42 C156.99,368.70 160.01,367.54 162.41,367.33 C164.81,367.11 166.78,367.39 168.96,368.11 C171.15,368.83 173.33,370.41 175.51,371.65 C177.70,372.89 179.88,374.49 182.06,375.58 C184.25,376.67 186.43,377.61 188.61,378.20 C190.80,378.79 192.98,379.12 195.17,379.12 C197.35,379.12 199.53,378.64 201.72,378.20 C203.90,377.76 205.87,376.93 208.27,376.50 C210.67,376.06 213.51,375.73 216.13,375.58 C218.75,375.43 221.37,375.51 223.99,375.58 C226.61,375.65 229.23,375.86 231.85,375.97 C234.47,376.08 237.64,376.08 239.71,376.24 C241.79,376.39 243.53,376.78 244.30,376.89" stroke-width="1.4"/>
</g>
</g>
<clipPath id="clipa6"><rect x="51.40" y="334.70" width="193.10" height="58.60"/></clipPath>
<text x="47.80" y="395.60" font-size="10.4" text-anchor="end" fill="#111">0</text>
<text x="47.80" y="383.40" font-size="10.4" text-anchor="end" fill="#111">2</text>
<text x="47.80" y="371.20" font-size="10.4" text-anchor="end" fill="#111">4</text>
<text x="47.80" y="359.00" font-size="10.4" text-anchor="end" fill="#111">6</text>
<text x="47.80" y="346.80" font-size="10.4" text-anchor="end" fill="#111">8</text>
<text x="201.00" y="353.90" font-size="15" fill="#000">CuPc</text>
<g stroke="#1a1a1a" stroke-width="0.9">
<path d="M63.47,400.06v2.20M63.47,457.46v-2.20"/>
<path d="M75.54,400.06v3.60M75.54,457.46v-3.60"/>
<path d="M87.61,400.06v2.20M87.61,457.46v-2.20"/>
<path d="M99.67,400.06v3.60M99.67,457.46v-3.60"/>
<path d="M111.74,400.06v2.20M111.74,457.46v-2.20"/>
<path d="M123.81,400.06v3.60M123.81,457.46v-3.60"/>
<path d="M135.88,400.06v2.20M135.88,457.46v-2.20"/>
<path d="M147.95,400.06v3.60M147.95,457.46v-3.60"/>
<path d="M160.02,400.06v2.20M160.02,457.46v-2.20"/>
<path d="M172.09,400.06v3.60M172.09,457.46v-3.60"/>
<path d="M184.16,400.06v2.20M184.16,457.46v-2.20"/>
<path d="M196.22,400.06v3.60M196.22,457.46v-3.60"/>
<path d="M208.29,400.06v2.20M208.29,457.46v-2.20"/>
<path d="M220.36,400.06v3.60M220.36,457.46v-3.60"/>
<path d="M232.43,400.06v2.20M232.43,457.46v-2.20"/>
<path d="M51.40,457.00h4.6M244.50,457.00h-4.6"/>
<path d="M51.40,440.70h4.6M244.50,440.70h-4.6"/>
<path d="M51.40,424.40h4.6M244.50,424.40h-4.6"/>
<path d="M51.40,408.10h4.6M244.50,408.10h-4.6"/>
<path d="M51.40,448.85h2.6M244.50,448.85h-2.6"/>
<path d="M51.40,432.55h2.6M244.50,432.55h-2.6"/>
<path d="M51.40,416.25h2.6M244.50,416.25h-2.6"/>
</g>
<rect x="51.40" y="400.06" width="193.10" height="57.40" fill="none" stroke="#111" stroke-width="1.05"/>
<g clip-path="url(#clipa7)">
<g fill="none" stroke="#008c00" stroke-linejoin="round">
<path d="M51.40,421.63 C52.48,421.41 55.47,420.98 57.86,420.32 C60.25,419.67 63.32,418.86 65.72,417.70 C68.12,416.54 70.31,415.04 72.27,413.38 C74.24,411.72 75.98,409.42 77.51,407.74 C79.04,406.06 80.46,403.77 81.44,403.29 C82.43,402.81 82.64,403.29 83.41,404.86 C84.17,406.43 85.16,410.54 86.03,412.72 C86.90,414.91 87.89,417.31 88.65,417.96 C89.41,418.62 89.96,417.96 90.61,416.65 C91.27,415.34 91.93,411.74 92.58,410.10 C93.24,408.46 93.89,407.15 94.55,406.83 C95.20,406.50 95.86,406.50 96.51,408.14 C97.17,409.77 97.82,412.83 98.48,416.65 C99.13,420.47 99.79,426.26 100.44,431.06 C101.10,435.87 101.64,441.65 102.41,445.48 C103.17,449.30 104.15,452.90 105.03,453.99 C105.90,455.08 106.56,453.23 107.65,452.03 C108.74,450.83 110.27,448.42 111.58,446.79 C112.89,445.15 113.98,443.84 115.51,442.20 C117.04,440.56 119.00,438.38 120.75,436.96 C122.50,435.54 123.81,434.99 125.99,433.68 C128.17,432.37 131.23,430.74 133.85,429.10 C136.47,427.46 139.39,425.61 141.71,423.86 C144.04,422.11 145.88,420.36 147.80,418.62 C149.73,416.87 151.46,414.75 153.24,413.38 C155.02,412.00 156.95,410.47 158.48,410.36 C160.01,410.25 161.10,411.02 162.41,412.72 C163.72,414.43 165.25,418.51 166.34,420.58 C167.43,422.66 167.87,423.86 168.96,425.17 C170.05,426.48 171.15,427.24 172.89,428.44 C174.64,429.64 177.26,431.06 179.44,432.37 C181.63,433.68 183.81,435.17 185.99,436.30 C188.18,437.44 190.36,438.64 192.55,439.19 C194.73,439.73 196.91,439.67 199.10,439.58 C201.28,439.49 203.25,438.82 205.65,438.66 C208.05,438.51 210.89,438.73 213.51,438.66 C216.13,438.60 218.75,438.66 221.37,438.27 C223.99,437.88 226.61,436.96 229.23,436.30 C231.85,435.65 234.58,435.04 237.09,434.34 C239.60,433.64 243.10,432.48 244.30,432.11" stroke-width="1.15" stroke-dasharray="0.01 2.0" stroke-linecap="round"/>
<path d="M51.40,428.18 C52.48,428.01 55.47,427.57 57.86,427.13 C60.25,426.70 63.32,426.33 65.72,425.56 C68.12,424.80 70.31,423.77 72.27,422.55 C74.24,421.33 76.09,419.36 77.51,418.22 C78.93,417.09 79.92,416.17 80.79,415.74 C81.66,415.30 81.99,415.01 82.75,415.60 C83.52,416.19 84.50,417.79 85.37,419.27 C86.25,420.76 87.23,423.31 87.99,424.51 C88.76,425.71 89.20,426.37 89.96,426.48 C90.72,426.59 91.71,425.50 92.58,425.17 C93.45,424.84 94.33,424.19 95.20,424.51 C96.07,424.84 96.95,425.50 97.82,427.13 C98.69,428.77 99.57,431.94 100.44,434.34 C101.31,436.74 102.19,439.73 103.06,441.55 C103.93,443.36 104.70,444.38 105.68,445.21 C106.66,446.04 107.97,446.41 108.96,446.52 C109.94,446.63 110.59,446.59 111.58,445.87 C112.56,445.15 113.54,443.40 114.85,442.20 C116.16,441.00 117.58,439.82 119.44,438.66 C121.29,437.51 123.59,436.30 125.99,435.26 C128.39,434.21 131.23,433.29 133.85,432.37 C136.47,431.46 139.39,430.63 141.71,429.75 C144.04,428.88 145.88,428.01 147.80,427.13 C149.73,426.26 151.24,425.28 153.24,424.51 C155.24,423.75 157.83,422.66 159.79,422.55 C161.76,422.44 163.07,423.05 165.03,423.86 C167.00,424.67 169.40,426.15 171.58,427.40 C173.77,428.64 175.95,430.02 178.13,431.33 C180.32,432.64 182.50,433.99 184.68,435.26 C186.87,436.52 189.05,438.20 191.24,438.93 C193.42,439.65 195.38,439.62 197.79,439.58 C200.19,439.54 203.03,438.82 205.65,438.66 C208.27,438.51 210.89,438.66 213.51,438.66 C216.13,438.66 218.75,438.95 221.37,438.66 C223.99,438.38 226.61,437.46 229.23,436.96 C231.85,436.46 234.58,435.98 237.09,435.65 C239.60,435.32 243.10,435.10 244.30,434.99" stroke-width="1.4"/>
</g>
</g>
<clipPath id="clipa7"><rect x="51.40" y="399.46" width="193.10" height="58.60"/></clipPath>
<text x="47.80" y="460.20" font-size="10.4" text-anchor="end" fill="#111">0</text>
<text x="47.80" y="443.90" font-size="10.4" text-anchor="end" fill="#111">2</text>
<text x="47.80" y="427.60" font-size="10.4" text-anchor="end" fill="#111">4</text>
<text x="47.80" y="411.30" font-size="10.4" text-anchor="end" fill="#111">6</text>
<text x="200.80" y="418.56" font-size="15" fill="#000">ZnPc</text>
<text x="51.40" y="469.20" font-size="10.4" text-anchor="middle" fill="#111">1.0</text>
<text x="75.54" y="469.20" font-size="10.4" text-anchor="middle" fill="#111">1.5</text>
<text x="99.67" y="469.20" font-size="10.4" text-anchor="middle" fill="#111">2.0</text>
<text x="123.81" y="469.20" font-size="10.4" text-anchor="middle" fill="#111">2.5</text>
<text x="147.95" y="469.20" font-size="10.4" text-anchor="middle" fill="#111">3.0</text>
<text x="172.09" y="469.20" font-size="10.4" text-anchor="middle" fill="#111">3.5</text>
<text x="196.22" y="469.20" font-size="10.4" text-anchor="middle" fill="#111">4.0</text>
<text x="220.36" y="469.20" font-size="10.4" text-anchor="middle" fill="#111">4.5</text>
<text x="244.50" y="469.20" font-size="10.4" text-anchor="middle" fill="#111">5.0</text>
<g stroke="#1a1a1a" stroke-width="0.9">
<path d="M319.56,11.50v2.20M319.56,68.90v-2.20"/>
<path d="M331.62,11.50v3.60M331.62,68.90v-3.60"/>
<path d="M343.69,11.50v2.20M343.69,68.90v-2.20"/>
<path d="M355.75,11.50v3.60M355.75,68.90v-3.60"/>
<path d="M367.81,11.50v2.20M367.81,68.90v-2.20"/>
<path d="M379.88,11.50v3.60M379.88,68.90v-3.60"/>
<path d="M391.94,11.50v2.20M391.94,68.90v-2.20"/>
<path d="M404.00,11.50v3.60M404.00,68.90v-3.60"/>
<path d="M416.06,11.50v2.20M416.06,68.90v-2.20"/>
<path d="M428.12,11.50v3.60M428.12,68.90v-3.60"/>
<path d="M440.19,11.50v2.20M440.19,68.90v-2.20"/>
<path d="M452.25,11.50v3.60M452.25,68.90v-3.60"/>
<path d="M464.31,11.50v2.20M464.31,68.90v-2.20"/>
<path d="M476.38,11.50v3.60M476.38,68.90v-3.60"/>
<path d="M488.44,11.50v2.20M488.44,68.90v-2.20"/>
<path d="M307.50,68.80h4.6M500.50,68.80h-4.6"/>
<path d="M307.50,53.70h4.6M500.50,53.70h-4.6"/>
<path d="M307.50,38.60h4.6M500.50,38.60h-4.6"/>
<path d="M307.50,23.50h4.6M500.50,23.50h-4.6"/>
<path d="M307.50,61.25h2.6M500.50,61.25h-2.6"/>
<path d="M307.50,46.15h2.6M500.50,46.15h-2.6"/>
<path d="M307.50,31.05h2.6M500.50,31.05h-2.6"/>
<path d="M307.50,15.95h2.6M500.50,15.95h-2.6"/>
</g>
<rect x="307.50" y="11.50" width="193.00" height="57.40" fill="none" stroke="#111" stroke-width="1.05"/>
<g clip-path="url(#clipb1)">
<g fill="none" stroke="#8b0a8b" stroke-linejoin="round">
<path d="M307.50,68.53 C309.43,68.53 315.64,68.57 319.10,68.53 C322.56,68.49 325.87,68.42 328.27,68.27 C330.67,68.11 332.09,68.49 333.51,67.61 C334.93,66.74 335.92,65.54 336.79,63.03 C337.66,60.52 338.10,56.48 338.75,52.55 C339.41,48.61 340.06,42.94 340.72,39.44 C341.37,35.95 342.03,32.85 342.68,31.58 C343.34,30.32 343.99,31.74 344.65,31.84 C345.30,31.95 345.96,32.94 346.61,32.24 C347.27,31.54 347.93,29.51 348.58,27.65 C349.24,25.80 349.78,22.80 350.55,21.10 C351.31,19.40 352.34,17.65 353.17,17.43 C354.00,17.21 354.76,18.31 355.52,19.79 C356.29,21.28 357.05,23.94 357.75,26.34 C358.45,28.74 358.95,31.36 359.72,34.20 C360.48,37.04 361.46,40.32 362.34,43.37 C363.21,46.43 364.08,49.71 364.96,52.55 C365.83,55.38 366.59,58.11 367.58,60.41 C368.56,62.70 369.76,64.99 370.85,66.30 C371.94,67.61 372.71,67.90 374.13,68.27 C375.55,68.64 377.19,68.53 379.37,68.53 C381.55,68.53 384.61,68.42 387.23,68.27 C389.85,68.11 392.91,67.94 395.09,67.61 C397.27,67.28 398.88,66.63 400.33,66.30 C401.78,65.97 402.54,66.41 403.80,65.65 C405.07,64.88 406.70,63.11 407.93,61.72 C409.16,60.32 410.11,59.01 411.21,57.26 C412.30,55.52 413.39,53.27 414.48,51.24 C415.57,49.20 416.66,46.98 417.76,45.08 C418.85,43.18 419.90,41.32 421.03,39.84 C422.17,38.35 423.37,37.19 424.57,36.17 C425.77,35.14 427.04,34.31 428.24,33.68 C429.44,33.05 430.57,32.43 431.78,32.37 C432.98,32.30 433.96,32.11 435.44,33.29 C436.93,34.47 438.94,37.22 440.68,39.44 C442.43,41.67 444.18,44.68 445.93,46.65 C447.67,48.61 449.42,50.25 451.17,51.24 C452.91,52.22 454.44,52.55 456.41,52.55 C458.37,52.55 460.77,51.93 462.96,51.24 C465.14,50.54 467.32,49.18 469.51,48.35 C471.69,47.52 473.88,46.72 476.06,46.26 C478.24,45.80 480.43,45.65 482.61,45.60 C484.79,45.56 486.98,45.71 489.16,45.99 C491.34,46.28 493.86,46.87 495.71,47.30 C497.57,47.74 499.53,48.40 500.30,48.61" stroke-width="1.15" stroke-dasharray="0.01 2.0" stroke-linecap="round"/>
<path d="M307.50,68.53 C309.43,68.53 315.64,68.57 319.10,68.53 C322.56,68.49 325.87,68.42 328.27,68.27 C330.67,68.11 332.09,68.27 333.51,67.61 C334.93,66.96 335.81,65.76 336.79,64.34 C337.77,62.92 338.54,60.95 339.41,59.10 C340.28,57.24 341.16,54.55 342.03,53.20 C342.90,51.85 343.78,51.48 344.65,50.97 C345.52,50.47 346.40,50.69 347.27,50.19 C348.14,49.68 349.02,48.72 349.89,47.96 C350.76,47.20 351.75,45.89 352.51,45.60 C353.27,45.32 353.71,45.32 354.48,46.26 C355.24,47.20 356.22,49.42 357.10,51.24 C357.97,53.05 358.62,55.17 359.72,57.13 C360.81,59.10 362.34,61.43 363.65,63.03 C364.96,64.62 366.05,65.82 367.58,66.70 C369.11,67.57 370.85,67.96 372.82,68.27 C374.78,68.57 376.97,68.53 379.37,68.53 C381.77,68.53 384.61,68.42 387.23,68.27 C389.85,68.11 392.91,67.94 395.09,67.61 C397.27,67.28 398.88,66.67 400.33,66.30 C401.78,65.93 402.32,66.04 403.80,65.39 C405.29,64.73 407.24,63.53 409.24,62.37 C411.24,61.21 413.61,59.64 415.79,58.44 C417.98,57.24 420.16,56.10 422.34,55.17 C424.53,54.23 426.71,53.29 428.89,52.81 C431.08,52.33 433.26,52.11 435.44,52.28 C437.63,52.46 439.81,53.16 441.99,53.86 C444.18,54.55 446.36,55.71 448.55,56.48 C450.73,57.24 452.91,58.00 455.10,58.44 C457.28,58.88 459.46,58.88 461.65,59.10 C463.83,59.31 466.01,59.42 468.20,59.75 C470.38,60.08 472.57,60.41 474.75,61.06 C476.93,61.72 479.12,62.87 481.30,63.68 C483.48,64.49 485.67,65.32 487.85,65.91 C490.03,66.50 492.33,66.94 494.40,67.22 C496.48,67.50 499.31,67.55 500.30,67.61" stroke-width="1.4"/>
</g>
</g>
<clipPath id="clipb1"><rect x="307.50" y="10.90" width="193.00" height="58.60"/></clipPath>
<text x="304.30" y="72.00" font-size="10.4" text-anchor="end" fill="#111">0</text>
<text x="304.30" y="56.90" font-size="10.4" text-anchor="end" fill="#111">2</text>
<text x="304.30" y="41.80" font-size="10.4" text-anchor="end" fill="#111">4</text>
<text x="304.30" y="26.70" font-size="10.4" text-anchor="end" fill="#111">6</text>
<text x="394.50" y="29.70" font-size="15" fill="#000">H<tspan font-size="8" dy="5.8">2</tspan><tspan dy="-5.8" dx="0.6">Pc</tspan></text>
<g stroke="#1a1a1a" stroke-width="0.9">
<path d="M319.56,76.26v2.20M319.56,133.66v-2.20"/>
<path d="M331.62,76.26v3.60M331.62,133.66v-3.60"/>
<path d="M343.69,76.26v2.20M343.69,133.66v-2.20"/>
<path d="M355.75,76.26v3.60M355.75,133.66v-3.60"/>
<path d="M367.81,76.26v2.20M367.81,133.66v-2.20"/>
<path d="M379.88,76.26v3.60M379.88,133.66v-3.60"/>
<path d="M391.94,76.26v2.20M391.94,133.66v-2.20"/>
<path d="M404.00,76.26v3.60M404.00,133.66v-3.60"/>
<path d="M416.06,76.26v2.20M416.06,133.66v-2.20"/>
<path d="M428.12,76.26v3.60M428.12,133.66v-3.60"/>
<path d="M440.19,76.26v2.20M440.19,133.66v-2.20"/>
<path d="M452.25,76.26v3.60M452.25,133.66v-3.60"/>
<path d="M464.31,76.26v2.20M464.31,133.66v-2.20"/>
<path d="M476.38,76.26v3.60M476.38,133.66v-3.60"/>
<path d="M488.44,76.26v2.20M488.44,133.66v-2.20"/>
<path d="M307.50,133.80h4.6M500.50,133.80h-4.6"/>
<path d="M307.50,118.70h4.6M500.50,118.70h-4.6"/>
<path d="M307.50,103.60h4.6M500.50,103.60h-4.6"/>
<path d="M307.50,88.50h4.6M500.50,88.50h-4.6"/>
<path d="M307.50,126.25h2.6M500.50,126.25h-2.6"/>
<path d="M307.50,111.15h2.6M500.50,111.15h-2.6"/>
<path d="M307.50,96.05h2.6M500.50,96.05h-2.6"/>
<path d="M307.50,80.95h2.6M500.50,80.95h-2.6"/>
</g>
<rect x="307.50" y="76.26" width="193.00" height="57.40" fill="none" stroke="#111" stroke-width="1.05"/>
<g clip-path="url(#clipb2)">
<g fill="none" stroke="#a8101a" stroke-linejoin="round">
<path d="M307.50,131.96 C308.12,131.85 309.96,131.56 311.24,131.30 C312.52,131.04 313.86,130.76 315.17,130.39 C316.48,130.01 317.79,129.58 319.10,129.07 C320.41,128.57 321.61,127.87 323.03,127.37 C324.45,126.87 326.31,126.61 327.62,126.06 C328.93,125.52 329.80,125.52 330.89,124.10 C331.98,122.68 333.08,120.17 334.17,117.55 C335.26,114.93 336.46,110.89 337.44,108.37 C338.43,105.86 339.19,103.75 340.06,102.48 C340.94,101.21 341.81,100.67 342.68,100.78 C343.56,100.88 344.43,101.87 345.30,103.13 C346.18,104.40 346.94,106.63 347.93,108.37 C348.91,110.12 350.11,112.41 351.20,113.61 C352.29,114.82 353.27,115.19 354.48,115.58 C355.68,115.97 357.31,115.65 358.41,115.97 C359.50,116.30 359.93,116.63 361.03,117.55 C362.12,118.46 363.65,120.43 364.96,121.48 C366.27,122.52 367.58,123.40 368.89,123.83 C370.20,124.27 371.51,124.21 372.82,124.10 C374.13,123.99 375.44,123.62 376.75,123.18 C378.06,122.74 379.15,122.31 380.68,121.48 C382.21,120.65 384.17,119.07 385.92,118.20 C387.67,117.33 389.20,116.56 391.16,116.24 C393.13,115.91 395.60,116.20 397.71,116.24 C399.82,116.27 402.36,116.56 403.80,116.43 C405.24,116.30 405.17,116.07 406.36,115.45 C407.55,114.83 409.42,113.68 410.94,112.70 C412.47,111.72 414.02,110.56 415.53,109.55 C417.04,108.55 418.50,107.35 419.98,106.67 C421.47,105.99 422.91,105.69 424.44,105.49 C425.97,105.30 427.63,105.43 429.16,105.49 C430.68,105.56 432.19,105.71 433.61,105.89 C435.03,106.06 435.84,106.13 437.67,106.54 C439.51,106.95 442.37,108.40 444.61,108.37 C446.86,108.35 448.98,107.39 451.17,106.41 C453.35,105.43 455.53,103.79 457.72,102.48 C459.90,101.17 461.87,99.86 464.27,98.55 C466.67,97.24 469.73,95.49 472.13,94.62 C474.53,93.74 476.50,93.31 478.68,93.31 C480.86,93.31 483.05,93.85 485.23,94.62 C487.41,95.38 489.82,96.87 491.78,97.89 C493.75,98.92 495.60,100.01 497.02,100.78 C498.44,101.54 499.75,102.19 500.30,102.48" stroke-width="1.15" stroke-dasharray="0.01 2.0" stroke-linecap="round"/>
<path d="M307.50,129.60 C308.12,129.77 309.96,130.52 311.24,130.65 C312.52,130.78 313.86,130.65 315.17,130.39 C316.48,130.12 317.79,129.58 319.10,129.07 C320.41,128.57 321.61,127.87 323.03,127.37 C324.45,126.87 326.31,126.61 327.62,126.06 C328.93,125.52 329.80,125.19 330.89,124.10 C331.98,123.00 333.08,121.04 334.17,119.51 C335.26,117.98 336.35,116.08 337.44,114.93 C338.54,113.77 339.74,112.89 340.72,112.57 C341.70,112.24 342.36,112.35 343.34,112.96 C344.32,113.57 345.52,115.03 346.61,116.24 C347.71,117.44 348.91,119.29 349.89,120.17 C350.87,121.04 351.42,121.32 352.51,121.48 C353.60,121.63 355.24,121.08 356.44,121.08 C357.64,121.08 358.52,121.08 359.72,121.48 C360.92,121.87 362.34,122.83 363.65,123.44 C364.96,124.05 366.27,124.82 367.58,125.14 C368.89,125.47 370.20,125.47 371.51,125.41 C372.82,125.34 373.91,125.08 375.44,124.75 C376.97,124.42 378.93,123.99 380.68,123.44 C382.43,122.90 384.17,122.02 385.92,121.48 C387.67,120.93 389.41,120.34 391.16,120.17 C392.91,119.99 394.29,120.31 396.40,120.43 C398.51,120.55 402.14,120.91 403.80,120.89 C405.46,120.86 405.17,120.74 406.36,120.30 C407.55,119.85 409.42,119.01 410.94,118.20 C412.47,117.39 414.02,116.21 415.53,115.45 C417.04,114.68 418.50,114.03 419.98,113.61 C421.47,113.20 422.91,113.03 424.44,112.96 C425.97,112.89 427.63,113.11 429.16,113.22 C430.68,113.33 432.12,113.37 433.61,113.61 C435.09,113.86 436.01,114.18 438.06,114.66 C440.12,115.14 443.52,116.24 445.93,116.50 C448.33,116.76 450.07,116.61 452.48,116.24 C454.88,115.86 457.72,114.88 460.34,114.27 C462.96,113.66 465.58,113.00 468.20,112.57 C470.82,112.13 473.44,111.69 476.06,111.65 C478.68,111.61 481.30,111.87 483.92,112.30 C486.54,112.74 489.05,113.72 491.78,114.27 C494.51,114.82 498.88,115.36 500.30,115.58" stroke-width="1.4"/>
</g>
</g>
<clipPath id="clipb2"><rect x="307.50" y="75.66" width="193.00" height="58.60"/></clipPath>
<text x="304.30" y="137.00" font-size="10.4" text-anchor="end" fill="#111">0</text>
<text x="304.30" y="121.90" font-size="10.4" text-anchor="end" fill="#111">1</text>
<text x="304.30" y="106.80" font-size="10.4" text-anchor="end" fill="#111">2</text>
<text x="304.30" y="91.70" font-size="10.4" text-anchor="end" fill="#111">3</text>
<text x="394.25" y="94.56" font-size="15" fill="#000">MnPc</text>
<g stroke="#1a1a1a" stroke-width="0.9">
<path d="M319.56,141.02v2.20M319.56,198.42v-2.20"/>
<path d="M331.62,141.02v3.60M331.62,198.42v-3.60"/>
<path d="M343.69,141.02v2.20M343.69,198.42v-2.20"/>
<path d="M355.75,141.02v3.60M355.75,198.42v-3.60"/>
<path d="M367.81,141.02v2.20M367.81,198.42v-2.20"/>
<path d="M379.88,141.02v3.60M379.88,198.42v-3.60"/>
<path d="M391.94,141.02v2.20M391.94,198.42v-2.20"/>
<path d="M404.00,141.02v3.60M404.00,198.42v-3.60"/>
<path d="M416.06,141.02v2.20M416.06,198.42v-2.20"/>
<path d="M428.12,141.02v3.60M428.12,198.42v-3.60"/>
<path d="M440.19,141.02v2.20M440.19,198.42v-2.20"/>
<path d="M452.25,141.02v3.60M452.25,198.42v-3.60"/>
<path d="M464.31,141.02v2.20M464.31,198.42v-2.20"/>
<path d="M476.38,141.02v3.60M476.38,198.42v-3.60"/>
<path d="M488.44,141.02v2.20M488.44,198.42v-2.20"/>
<path d="M307.50,197.50h4.6M500.50,197.50h-4.6"/>
<path d="M307.50,170.50h4.6M500.50,170.50h-4.6"/>
<path d="M307.50,143.50h4.6M500.50,143.50h-4.6"/>
<path d="M307.50,184.00h2.6M500.50,184.00h-2.6"/>
<path d="M307.50,157.00h2.6M500.50,157.00h-2.6"/>
</g>
<rect x="307.50" y="141.02" width="193.00" height="57.40" fill="none" stroke="#111" stroke-width="1.05"/>
<g clip-path="url(#clipb3)">
<g fill="none" stroke="#008585" stroke-linejoin="round">
<path d="M307.50,198.01 C308.34,197.79 310.62,197.20 312.55,196.70 C314.48,196.19 316.92,195.56 319.10,194.99 C321.29,194.42 323.69,194.16 325.65,193.29 C327.62,192.42 329.36,191.32 330.89,189.75 C332.42,188.18 333.51,186.15 334.82,183.86 C336.13,181.56 337.44,178.61 338.75,175.99 C340.06,173.37 341.37,170.21 342.68,168.13 C343.99,166.06 345.30,164.64 346.61,163.55 C347.93,162.46 349.45,162.30 350.55,161.58 C351.64,160.86 352.34,159.84 353.17,159.22 C354.00,158.61 354.76,157.41 355.52,157.91 C356.29,158.42 356.94,160.32 357.75,162.24 C358.56,164.16 359.39,167.70 360.37,169.44 C361.35,171.19 362.66,171.74 363.65,172.72 C364.63,173.70 365.39,173.70 366.27,175.34 C367.14,176.98 368.01,180.47 368.89,182.55 C369.76,184.62 370.63,186.59 371.51,187.79 C372.38,188.99 372.82,189.49 374.13,189.75 C375.44,190.01 377.40,189.69 379.37,189.36 C381.33,189.03 383.52,188.09 385.92,187.79 C388.32,187.48 391.38,187.85 393.78,187.52 C396.18,187.20 398.66,186.41 400.33,185.82 C402.00,185.23 402.10,184.97 403.80,183.99 C405.51,183.00 408.33,181.69 410.55,179.93 C412.77,178.16 414.92,175.99 417.10,173.37 C419.29,170.75 421.47,167.26 423.65,164.20 C425.84,161.15 428.24,157.22 430.20,155.03 C432.17,152.85 433.70,151.87 435.44,151.10 C437.19,150.34 438.72,150.27 440.68,150.45 C442.65,150.62 444.83,151.39 447.24,152.15 C449.64,152.91 452.48,154.01 455.10,155.03 C457.72,156.06 460.34,157.11 462.96,158.31 C465.58,159.51 468.20,160.93 470.82,162.24 C473.44,163.55 476.28,165.08 478.68,166.17 C481.08,167.26 482.83,168.07 485.23,168.79 C487.63,169.51 490.58,170.16 493.09,170.49 C495.60,170.82 499.10,170.71 500.30,170.75" stroke-width="1.15" stroke-dasharray="0.01 2.0" stroke-linecap="round"/>
<path d="M307.50,198.01 C308.34,197.79 310.62,197.20 312.55,196.70 C314.48,196.19 316.92,195.56 319.10,194.99 C321.29,194.42 323.69,194.05 325.65,193.29 C327.62,192.52 329.15,191.65 330.89,190.41 C332.64,189.16 334.39,187.35 336.13,185.82 C337.88,184.29 339.85,182.44 341.37,181.24 C342.90,180.03 343.99,179.16 345.30,178.61 C346.61,178.07 347.93,178.29 349.24,177.96 C350.55,177.63 352.07,176.93 353.17,176.65 C354.26,176.37 354.91,175.93 355.79,176.26 C356.66,176.58 357.53,177.68 358.41,178.61 C359.28,179.55 360.15,181.13 361.03,181.89 C361.90,182.65 362.77,182.87 363.65,183.20 C364.52,183.53 365.39,183.20 366.27,183.86 C367.14,184.51 368.01,186.04 368.89,187.13 C369.76,188.22 370.63,189.60 371.51,190.41 C372.38,191.21 372.82,191.65 374.13,191.98 C375.44,192.31 377.19,192.35 379.37,192.37 C381.55,192.39 384.61,192.26 387.23,192.11 C389.85,191.96 392.33,191.69 395.09,191.45 C397.85,191.21 401.23,191.17 403.80,190.67 C406.38,190.17 408.33,189.36 410.55,188.44 C412.77,187.52 414.92,186.37 417.10,185.17 C419.29,183.96 421.47,182.44 423.65,181.24 C425.84,180.03 428.13,178.72 430.20,177.96 C432.28,177.20 434.13,176.76 436.10,176.65 C438.06,176.54 439.70,176.93 441.99,177.30 C444.29,177.68 447.02,178.40 449.86,178.88 C452.69,179.36 455.97,179.75 459.03,180.19 C462.08,180.62 465.14,181.00 468.20,181.50 C471.25,182.00 474.53,182.70 477.37,183.20 C480.21,183.70 482.61,184.14 485.23,184.51 C487.85,184.88 490.58,185.32 493.09,185.43 C495.60,185.54 499.10,185.21 500.30,185.17" stroke-width="1.4"/>
</g>
</g>
<clipPath id="clipb3"><rect x="307.50" y="140.42" width="193.00" height="58.60"/></clipPath>
<text x="304.30" y="200.70" font-size="10.4" text-anchor="end" fill="#111">0</text>
<text x="304.30" y="173.70" font-size="10.4" text-anchor="end" fill="#111">2</text>
<text x="304.30" y="146.70" font-size="10.4" text-anchor="end" fill="#111">4</text>
<text x="387.60" y="159.22" font-size="15" fill="#000">FePc</text>
<g stroke="#1a1a1a" stroke-width="0.9">
<path d="M319.56,205.78v2.20M319.56,263.18v-2.20"/>
<path d="M331.62,205.78v3.60M331.62,263.18v-3.60"/>
<path d="M343.69,205.78v2.20M343.69,263.18v-2.20"/>
<path d="M355.75,205.78v3.60M355.75,263.18v-3.60"/>
<path d="M367.81,205.78v2.20M367.81,263.18v-2.20"/>
<path d="M379.88,205.78v3.60M379.88,263.18v-3.60"/>
<path d="M391.94,205.78v2.20M391.94,263.18v-2.20"/>
<path d="M404.00,205.78v3.60M404.00,263.18v-3.60"/>
<path d="M416.06,205.78v2.20M416.06,263.18v-2.20"/>
<path d="M428.12,205.78v3.60M428.12,263.18v-3.60"/>
<path d="M440.19,205.78v2.20M440.19,263.18v-2.20"/>
<path d="M452.25,205.78v3.60M452.25,263.18v-3.60"/>
<path d="M464.31,205.78v2.20M464.31,263.18v-2.20"/>
<path d="M476.38,205.78v3.60M476.38,263.18v-3.60"/>
<path d="M488.44,205.78v2.20M488.44,263.18v-2.20"/>
<path d="M307.50,262.50h4.6M500.50,262.50h-4.6"/>
<path d="M307.50,242.90h4.6M500.50,242.90h-4.6"/>
<path d="M307.50,223.30h4.6M500.50,223.30h-4.6"/>
<path d="M307.50,252.70h2.6M500.50,252.70h-2.6"/>
<path d="M307.50,233.10h2.6M500.50,233.10h-2.6"/>
<path d="M307.50,213.50h2.6M500.50,213.50h-2.6"/>
</g>
<rect x="307.50" y="205.78" width="193.00" height="57.40" fill="none" stroke="#111" stroke-width="1.05"/>
<g clip-path="url(#clipb4)">
<g fill="none" stroke="#0000f5" stroke-linejoin="round">
<path d="M307.50,263.01 C309.43,263.01 315.20,263.03 319.10,263.01 C323.00,262.98 328.49,263.27 330.89,262.87 C333.30,262.48 332.53,262.33 333.51,260.65 C334.50,258.97 335.81,256.06 336.79,252.79 C337.77,249.51 338.54,245.14 339.41,240.99 C340.28,236.85 341.16,231.28 342.03,227.89 C342.90,224.51 343.89,222.00 344.65,220.69 C345.41,219.38 345.96,219.70 346.61,220.03 C347.27,220.36 347.93,221.78 348.58,222.65 C349.24,223.53 349.89,225.38 350.55,225.27 C351.20,225.16 351.86,223.64 352.51,222.00 C353.17,220.36 353.82,217.30 354.48,215.45 C355.13,213.59 355.79,211.19 356.44,210.86 C357.10,210.53 357.75,211.73 358.41,213.48 C359.06,215.23 359.72,218.50 360.37,221.34 C361.03,224.18 361.57,227.02 362.34,230.51 C363.10,234.01 364.08,238.81 364.96,242.30 C365.83,245.80 366.59,249.07 367.58,251.48 C368.56,253.88 369.54,255.41 370.85,256.72 C372.16,258.03 373.80,258.57 375.44,259.34 C377.08,260.10 378.93,260.82 380.68,261.30 C382.43,261.78 383.95,262.11 385.92,262.22 C387.89,262.33 390.29,262.22 392.47,261.96 C394.65,261.70 397.13,261.16 399.02,260.65 C400.91,260.13 402.10,259.75 403.80,258.88 C405.51,258.00 407.24,256.64 409.24,255.41 C411.24,254.17 413.83,253.00 415.79,251.48 C417.76,249.95 419.29,248.42 421.03,246.24 C422.78,244.05 424.53,241.43 426.27,238.37 C428.02,235.32 429.77,230.73 431.51,227.89 C433.26,225.05 435.12,222.70 436.75,221.34 C438.39,219.99 439.81,219.66 441.34,219.77 C442.87,219.88 444.29,221.41 445.93,222.00 C447.56,222.59 448.98,223.02 451.17,223.31 C453.35,223.59 456.41,223.59 459.03,223.70 C461.65,223.81 464.49,223.70 466.89,223.96 C469.29,224.22 471.25,224.51 473.44,225.27 C475.62,226.04 477.81,227.24 479.99,228.55 C482.17,229.86 484.36,231.39 486.54,233.13 C488.72,234.88 490.80,236.85 493.09,239.03 C495.38,241.21 499.10,245.03 500.30,246.24" stroke-width="1.15" stroke-dasharray="0.01 2.0" stroke-linecap="round"/>
<path d="M307.50,263.01 C309.43,263.01 315.20,263.03 319.10,263.01 C323.00,262.98 328.38,263.16 330.89,262.87 C333.40,262.59 333.08,262.33 334.17,261.30 C335.26,260.28 336.35,258.46 337.44,256.72 C338.54,254.97 339.63,252.46 340.72,250.82 C341.81,249.18 343.12,247.65 343.99,246.89 C344.87,246.13 345.20,246.13 345.96,246.24 C346.72,246.34 347.71,247.22 348.58,247.55 C349.45,247.87 350.33,248.42 351.20,248.20 C352.07,247.98 352.84,247.17 353.82,246.24 C354.80,245.30 356.11,243.00 357.10,242.57 C358.08,242.13 358.84,242.89 359.72,243.61 C360.59,244.34 361.35,245.47 362.34,246.89 C363.32,248.31 364.52,250.49 365.61,252.13 C366.70,253.77 367.69,255.41 368.89,256.72 C370.09,258.03 371.29,259.16 372.82,259.99 C374.35,260.82 376.09,261.26 378.06,261.70 C380.02,262.13 382.21,262.46 384.61,262.61 C387.01,262.77 390.07,262.72 392.47,262.61 C394.87,262.50 397.13,262.28 399.02,261.96 C400.91,261.63 401.88,261.19 403.80,260.65 C405.73,260.10 408.33,259.34 410.55,258.68 C412.77,258.03 414.92,257.48 417.10,256.72 C419.29,255.95 421.47,255.30 423.65,254.10 C425.84,252.90 428.24,250.82 430.20,249.51 C432.17,248.20 433.70,246.96 435.44,246.24 C437.19,245.51 438.94,245.19 440.68,245.19 C442.43,245.19 443.96,245.89 445.93,246.24 C447.89,246.58 450.07,247.07 452.48,247.28 C454.88,247.50 457.72,247.46 460.34,247.55 C462.96,247.63 465.58,247.59 468.20,247.81 C470.82,248.03 473.44,248.35 476.06,248.86 C478.68,249.36 481.30,250.12 483.92,250.82 C486.54,251.52 489.05,252.28 491.78,253.05 C494.51,253.81 498.88,255.01 500.30,255.41" stroke-width="1.4"/>
</g>
</g>
<clipPath id="clipb4"><rect x="307.50" y="205.18" width="193.00" height="58.60"/></clipPath>
<text x="304.30" y="265.70" font-size="10.4" text-anchor="end" fill="#111">0</text>
<text x="304.30" y="246.10" font-size="10.4" text-anchor="end" fill="#111">2</text>
<text x="304.30" y="226.50" font-size="10.4" text-anchor="end" fill="#111">4</text>
<text x="394.56" y="223.38" font-size="15" fill="#000">CoPc</text>
<g stroke="#1a1a1a" stroke-width="0.9">
<path d="M319.56,270.54v2.20M319.56,327.94v-2.20"/>
<path d="M331.62,270.54v3.60M331.62,327.94v-3.60"/>
<path d="M343.69,270.54v2.20M343.69,327.94v-2.20"/>
<path d="M355.75,270.54v3.60M355.75,327.94v-3.60"/>
<path d="M367.81,270.54v2.20M367.81,327.94v-2.20"/>
<path d="M379.88,270.54v3.60M379.88,327.94v-3.60"/>
<path d="M391.94,270.54v2.20M391.94,327.94v-2.20"/>
<path d="M404.00,270.54v3.60M404.00,327.94v-3.60"/>
<path d="M416.06,270.54v2.20M416.06,327.94v-2.20"/>
<path d="M428.12,270.54v3.60M428.12,327.94v-3.60"/>
<path d="M440.19,270.54v2.20M440.19,327.94v-2.20"/>
<path d="M452.25,270.54v3.60M452.25,327.94v-3.60"/>
<path d="M464.31,270.54v2.20M464.31,327.94v-2.20"/>
<path d="M476.38,270.54v3.60M476.38,327.94v-3.60"/>
<path d="M488.44,270.54v2.20M488.44,327.94v-2.20"/>
<path d="M307.50,327.50h4.6M500.50,327.50h-4.6"/>
<path d="M307.50,315.16h4.6M500.50,315.16h-4.6"/>
<path d="M307.50,302.82h4.6M500.50,302.82h-4.6"/>
<path d="M307.50,290.48h4.6M500.50,290.48h-4.6"/>
<path d="M307.50,278.14h4.6M500.50,278.14h-4.6"/>
<path d="M307.50,321.33h2.6M500.50,321.33h-2.6"/>
<path d="M307.50,308.99h2.6M500.50,308.99h-2.6"/>
<path d="M307.50,296.65h2.6M500.50,296.65h-2.6"/>
<path d="M307.50,284.31h2.6M500.50,284.31h-2.6"/>
<path d="M307.50,271.97h2.6M500.50,271.97h-2.6"/>
</g>
<rect x="307.50" y="270.54" width="193.00" height="57.40" fill="none" stroke="#111" stroke-width="1.05"/>
<g clip-path="url(#clipb5)">
<g fill="none" stroke="#808080" stroke-linejoin="round">
<path d="M307.50,328.01 C311.62,327.94 327.43,328.01 332.20,327.61 C336.98,327.22 335.04,326.63 336.13,325.65 C337.23,324.66 337.88,324.12 338.75,321.72 C339.63,319.31 340.50,315.38 341.37,311.24 C342.25,307.09 343.23,300.75 343.99,296.82 C344.76,292.89 345.30,289.51 345.96,287.65 C346.61,285.80 347.27,286.23 347.93,285.69 C348.58,285.14 349.24,285.14 349.89,284.38 C350.55,283.61 351.14,282.52 351.86,281.10 C352.58,279.68 353.52,276.30 354.21,275.86 C354.91,275.42 355.39,276.52 356.05,278.48 C356.70,280.45 357.42,284.38 358.14,287.65 C358.86,290.93 359.56,294.42 360.37,298.13 C361.18,301.85 362.12,306.43 362.99,309.93 C363.87,313.42 364.74,316.80 365.61,319.10 C366.49,321.39 367.25,322.42 368.23,323.68 C369.22,324.95 370.31,326.04 371.51,326.70 C372.71,327.35 374.13,327.42 375.44,327.61 C376.75,327.81 374.64,327.83 379.37,327.87 C384.10,327.92 398.82,327.92 403.80,327.87 C408.78,327.83 407.46,328.09 409.24,327.61 C411.02,327.13 412.52,326.52 414.48,324.99 C416.45,323.46 418.85,320.62 421.03,318.44 C423.22,316.26 425.40,313.70 427.58,311.89 C429.77,310.08 432.17,308.33 434.13,307.57 C436.10,306.80 437.63,307.02 439.37,307.30 C441.12,307.59 442.87,308.57 444.61,309.27 C446.36,309.97 448.11,311.61 449.86,311.50 C451.60,311.39 453.13,309.79 455.10,308.61 C457.06,307.44 459.68,304.75 461.65,304.42 C463.61,304.09 465.14,305.99 466.89,306.65 C468.63,307.30 470.16,308.29 472.13,308.35 C474.09,308.42 476.71,307.39 478.68,307.04 C480.64,306.69 482.17,306.10 483.92,306.26 C485.67,306.41 487.41,307.02 489.16,307.96 C490.91,308.90 492.55,310.51 494.40,311.89 C496.26,313.27 499.31,315.49 500.30,316.21" stroke-width="1.15" stroke-dasharray="0.01 2.05" stroke-linecap="round"/>
<path d="M307.50,328.01 C311.62,327.98 327.21,328.05 332.20,327.87 C337.19,327.70 336.02,327.77 337.44,326.96 C338.86,326.15 339.74,324.66 340.72,323.03 C341.70,321.39 342.47,318.70 343.34,317.13 C344.21,315.56 345.09,314.25 345.96,313.59 C346.83,312.94 347.71,313.48 348.58,313.20 C349.45,312.92 350.22,312.55 351.20,311.89 C352.18,311.24 353.60,309.64 354.48,309.27 C355.35,308.90 355.79,309.23 356.44,309.66 C357.10,310.10 357.64,310.86 358.41,311.89 C359.17,312.92 360.04,314.40 361.03,315.82 C362.01,317.24 363.21,318.99 364.30,320.41 C365.39,321.83 366.49,323.29 367.58,324.34 C368.67,325.39 369.76,326.15 370.85,326.70 C371.94,327.24 372.71,327.42 374.13,327.61 C375.55,327.81 374.42,327.83 379.37,327.87 C384.31,327.92 398.61,327.92 403.80,327.87 C409.00,327.83 408.33,328.09 410.55,327.61 C412.77,327.13 414.92,326.02 417.10,324.99 C419.29,323.97 421.47,322.44 423.65,321.45 C425.84,320.47 428.02,319.60 430.20,319.10 C432.39,318.59 434.57,318.40 436.75,318.44 C438.94,318.48 440.90,318.99 443.30,319.36 C445.71,319.73 448.55,320.82 451.17,320.67 C453.79,320.52 456.41,318.97 459.03,318.44 C461.65,317.92 464.27,317.74 466.89,317.52 C469.51,317.31 472.35,317.35 474.75,317.13 C477.15,316.91 479.12,316.21 481.30,316.21 C483.48,316.21 485.67,316.65 487.85,317.13 C490.03,317.61 492.33,318.38 494.40,319.10 C496.48,319.82 499.31,321.06 500.30,321.45" stroke-width="1.15"/>
</g>
</g>
<clipPath id="clipb5"><rect x="307.50" y="269.94" width="193.00" height="58.60"/></clipPath>
<text x="304.30" y="330.70" font-size="10.4" text-anchor="end" fill="#111">0</text>
<text x="304.30" y="318.36" font-size="10.4" text-anchor="end" fill="#111">2</text>
<text x="304.30" y="306.02" font-size="10.4" text-anchor="end" fill="#111">4</text>
<text x="304.30" y="293.68" font-size="10.4" text-anchor="end" fill="#111">6</text>
<text x="304.30" y="281.34" font-size="10.4" text-anchor="end" fill="#111">8</text>
<text x="394.86" y="289.54" font-size="15" fill="#000">NiPc</text>
<g stroke="#1a1a1a" stroke-width="0.9">
<path d="M319.56,335.30v2.20M319.56,392.70v-2.20"/>
<path d="M331.62,335.30v3.60M331.62,392.70v-3.60"/>
<path d="M343.69,335.30v2.20M343.69,392.70v-2.20"/>
<path d="M355.75,335.30v3.60M355.75,392.70v-3.60"/>
<path d="M367.81,335.30v2.20M367.81,392.70v-2.20"/>
<path d="M379.88,335.30v3.60M379.88,392.70v-3.60"/>
<path d="M391.94,335.30v2.20M391.94,392.70v-2.20"/>
<path d="M404.00,335.30v3.60M404.00,392.70v-3.60"/>
<path d="M416.06,335.30v2.20M416.06,392.70v-2.20"/>
<path d="M428.12,335.30v3.60M428.12,392.70v-3.60"/>
<path d="M440.19,335.30v2.20M440.19,392.70v-2.20"/>
<path d="M452.25,335.30v3.60M452.25,392.70v-3.60"/>
<path d="M464.31,335.30v2.20M464.31,392.70v-2.20"/>
<path d="M476.38,335.30v3.60M476.38,392.70v-3.60"/>
<path d="M488.44,335.30v2.20M488.44,392.70v-2.20"/>
<path d="M307.50,392.30h4.6M500.50,392.30h-4.6"/>
<path d="M307.50,375.96h4.6M500.50,375.96h-4.6"/>
<path d="M307.50,359.62h4.6M500.50,359.62h-4.6"/>
<path d="M307.50,343.28h4.6M500.50,343.28h-4.6"/>
<path d="M307.50,384.13h2.6M500.50,384.13h-2.6"/>
<path d="M307.50,367.79h2.6M500.50,367.79h-2.6"/>
<path d="M307.50,351.45h2.6M500.50,351.45h-2.6"/>
</g>
<rect x="307.50" y="335.30" width="193.00" height="57.40" fill="none" stroke="#111" stroke-width="1.05"/>
<g clip-path="url(#clipb6)">
<g fill="none" stroke="#ff0000" stroke-linejoin="round">
<path d="M307.50,392.22 C311.62,392.22 327.54,392.48 332.20,392.22 C336.87,391.96 334.50,392.00 335.48,390.65 C336.46,389.29 337.33,387.15 338.10,384.10 C338.86,381.04 339.41,376.45 340.06,372.30 C340.72,368.16 341.37,362.09 342.03,359.20 C342.68,356.32 343.34,354.79 343.99,355.01 C344.65,355.23 345.30,359.81 345.96,360.51 C346.61,361.21 347.16,360.73 347.93,359.20 C348.69,357.67 349.72,353.96 350.55,351.34 C351.38,348.72 352.20,345.34 352.90,343.48 C353.60,341.63 354.08,340.32 354.74,340.21 C355.39,340.10 356.18,341.41 356.83,342.83 C357.49,344.25 358.01,346.21 358.67,348.72 C359.32,351.23 360.15,354.62 360.76,357.89 C361.38,361.17 361.75,365.32 362.34,368.37 C362.93,371.43 363.54,373.83 364.30,376.24 C365.07,378.64 365.94,380.82 366.92,382.79 C367.91,384.75 369.00,386.67 370.20,388.03 C371.40,389.38 372.60,390.25 374.13,390.91 C375.66,391.56 377.19,391.78 379.37,391.96 C381.55,392.13 384.17,392.00 387.23,391.96 C390.29,391.91 394.95,391.75 397.71,391.70 C400.47,391.64 401.88,392.24 403.80,391.63 C405.73,391.02 407.46,389.94 409.24,388.03 C411.02,386.12 412.73,383.22 414.48,380.17 C416.23,377.11 417.98,372.85 419.72,369.68 C421.47,366.52 423.22,363.31 424.96,361.17 C426.71,359.03 428.67,357.57 430.20,356.84 C431.73,356.12 432.61,356.34 434.13,356.84 C435.66,357.35 437.41,358.48 439.37,359.86 C441.34,361.23 443.74,363.13 445.93,365.10 C448.11,367.06 450.29,369.68 452.48,371.65 C454.66,373.61 457.06,375.80 459.03,376.89 C460.99,377.98 462.30,378.09 464.27,378.20 C466.23,378.31 468.63,377.98 470.82,377.55 C473.00,377.11 474.97,376.19 477.37,375.58 C479.77,374.97 482.61,374.31 485.23,373.88 C487.85,373.44 490.58,373.22 493.09,372.96 C495.60,372.70 499.10,372.41 500.30,372.30" stroke-width="1.15" stroke-dasharray="0.01 2.0" stroke-linecap="round"/>
<path d="M307.50,392.22 C311.62,392.22 327.54,392.48 332.20,392.22 C336.87,391.96 334.50,391.78 335.48,390.65 C336.46,389.51 337.23,387.37 338.10,385.41 C338.97,383.44 339.85,380.49 340.72,378.86 C341.59,377.22 342.58,376.06 343.34,375.58 C344.10,375.10 344.54,375.65 345.30,375.97 C346.07,376.30 347.05,377.50 347.93,377.55 C348.80,377.59 349.67,377.00 350.55,376.24 C351.42,375.47 352.29,373.77 353.17,372.96 C354.04,372.15 354.91,371.45 355.79,371.39 C356.66,371.32 357.53,371.93 358.41,372.57 C359.28,373.20 360.15,374.14 361.03,375.19 C361.90,376.24 362.66,377.48 363.65,378.86 C364.63,380.23 365.83,381.91 366.92,383.44 C368.01,384.97 369.00,386.78 370.20,388.03 C371.40,389.27 372.60,390.25 374.13,390.91 C375.66,391.56 377.19,391.78 379.37,391.96 C381.55,392.13 384.17,392.00 387.23,391.96 C390.29,391.91 394.95,391.77 397.71,391.70 C400.47,391.62 401.88,391.78 403.80,391.50 C405.73,391.21 407.24,390.90 409.24,389.99 C411.24,389.09 413.61,387.59 415.79,386.06 C417.98,384.53 420.38,382.24 422.34,380.82 C424.31,379.40 425.95,378.31 427.58,377.55 C429.22,376.78 430.42,376.34 432.17,376.24 C433.92,376.13 435.99,376.34 438.06,376.89 C440.14,377.44 442.43,378.57 444.61,379.51 C446.80,380.45 448.98,381.65 451.17,382.52 C453.35,383.40 455.53,384.27 457.72,384.75 C459.90,385.23 461.87,385.41 464.27,385.41 C466.67,385.41 469.51,385.01 472.13,384.75 C474.75,384.49 477.37,384.12 479.99,383.83 C482.61,383.55 485.23,383.27 487.85,383.05 C490.47,382.83 493.64,382.63 495.71,382.52 C497.79,382.41 499.53,382.41 500.30,382.39" stroke-width="1.4"/>
</g>
</g>
<clipPath id="clipb6"><rect x="307.50" y="334.70" width="193.00" height="58.60"/></clipPath>
<text x="304.30" y="395.50" font-size="10.4" text-anchor="end" fill="#111">0</text>
<text x="304.30" y="379.16" font-size="10.4" text-anchor="end" fill="#111">2</text>
<text x="304.30" y="362.82" font-size="10.4" text-anchor="end" fill="#111">4</text>
<text x="304.30" y="346.48" font-size="10.4" text-anchor="end" fill="#111">6</text>
<text x="394.96" y="352.30" font-size="15" fill="#000">CuPc</text>
<g stroke="#1a1a1a" stroke-width="0.9">
<path d="M319.56,400.06v2.20M319.56,457.46v-2.20"/>
<path d="M331.62,400.06v3.60M331.62,457.46v-3.60"/>
<path d="M343.69,400.06v2.20M343.69,457.46v-2.20"/>
<path d="M355.75,400.06v3.60M355.75,457.46v-3.60"/>
<path d="M367.81,400.06v2.20M367.81,457.46v-2.20"/>
<path d="M379.88,400.06v3.60M379.88,457.46v-3.60"/>
<path d="M391.94,400.06v2.20M391.94,457.46v-2.20"/>
<path d="M404.00,400.06v3.60M404.00,457.46v-3.60"/>
<path d="M416.06,400.06v2.20M416.06,457.46v-2.20"/>
<path d="M428.12,400.06v3.60M428.12,457.46v-3.60"/>
<path d="M440.19,400.06v2.20M440.19,457.46v-2.20"/>
<path d="M452.25,400.06v3.60M452.25,457.46v-3.60"/>
<path d="M464.31,400.06v2.20M464.31,457.46v-2.20"/>
<path d="M476.38,400.06v3.60M476.38,457.46v-3.60"/>
<path d="M488.44,400.06v2.20M488.44,457.46v-2.20"/>
<path d="M307.50,457.00h4.6M500.50,457.00h-4.6"/>
<path d="M307.50,440.06h4.6M500.50,440.06h-4.6"/>
<path d="M307.50,423.12h4.6M500.50,423.12h-4.6"/>
<path d="M307.50,406.18h4.6M500.50,406.18h-4.6"/>
<path d="M307.50,448.53h2.6M500.50,448.53h-2.6"/>
<path d="M307.50,431.59h2.6M500.50,431.59h-2.6"/>
<path d="M307.50,414.65h2.6M500.50,414.65h-2.6"/>
</g>
<rect x="307.50" y="400.06" width="193.00" height="57.40" fill="none" stroke="#111" stroke-width="1.05"/>
<g clip-path="url(#clipb7)">
<g fill="none" stroke="#008c00" stroke-linejoin="round">
<path d="M307.50,457.01 C310.53,456.98 321.75,457.09 325.65,456.87 C329.55,456.66 329.47,456.50 330.89,455.70 C332.31,454.89 333.08,453.73 334.17,452.03 C335.26,450.32 336.42,448.10 337.44,445.48 C338.47,442.86 339.45,438.49 340.33,436.30 C341.20,434.12 341.90,432.48 342.68,432.37 C343.47,432.27 344.28,434.51 345.04,435.65 C345.81,436.79 346.46,439.19 347.27,439.19 C348.08,439.19 349.02,438.75 349.89,435.65 C350.76,432.55 351.75,425.06 352.51,420.58 C353.27,416.11 353.93,411.24 354.48,408.79 C355.02,406.35 355.24,405.47 355.79,405.91 C356.33,406.35 357.10,408.75 357.75,411.41 C358.41,414.08 359.06,418.40 359.72,421.89 C360.37,425.39 360.92,428.88 361.68,432.37 C362.45,435.87 363.32,439.80 364.30,442.86 C365.28,445.91 366.38,448.75 367.58,450.72 C368.78,452.68 370.20,453.66 371.51,454.65 C372.82,455.63 373.25,456.24 375.44,456.61 C377.62,456.98 380.90,457.03 384.61,456.87 C388.32,456.72 394.51,456.18 397.71,455.70 C400.91,455.21 401.88,455.15 403.80,453.99 C405.73,452.83 407.46,451.26 409.24,448.75 C411.02,446.24 412.95,441.98 414.48,438.93 C416.01,435.87 416.99,432.48 418.41,430.41 C419.83,428.33 421.47,426.81 423.00,426.48 C424.53,426.15 425.95,427.72 427.58,428.44 C429.22,429.16 430.86,430.19 432.82,430.80 C434.79,431.41 437.19,431.30 439.37,432.11 C441.56,432.92 443.74,434.34 445.93,435.65 C448.11,436.96 450.29,438.88 452.48,439.97 C454.66,441.07 456.84,441.68 459.03,442.20 C461.21,442.72 463.39,442.75 465.58,443.12 C467.76,443.49 469.73,443.93 472.13,444.43 C474.53,444.93 477.37,445.63 479.99,446.13 C482.61,446.63 485.45,447.22 487.85,447.44 C490.25,447.66 492.33,447.48 494.40,447.44 C496.48,447.40 499.31,447.22 500.30,447.18" stroke-width="1.15" stroke-dasharray="0.01 2.0" stroke-linecap="round"/>
<path d="M307.50,457.01 C310.53,456.98 321.75,457.05 325.65,456.87 C329.55,456.70 329.47,456.55 330.89,455.96 C332.31,455.37 333.08,454.54 334.17,453.34 C335.26,452.14 336.35,450.61 337.44,448.75 C338.54,446.90 339.74,443.79 340.72,442.20 C341.70,440.61 342.47,439.34 343.34,439.19 C344.21,439.03 345.09,440.67 345.96,441.28 C346.83,441.89 347.71,443.03 348.58,442.86 C349.45,442.68 350.33,441.44 351.20,440.24 C352.07,439.03 352.95,436.96 353.82,435.65 C354.69,434.34 355.57,432.70 356.44,432.37 C357.31,432.05 358.19,432.81 359.06,433.68 C359.93,434.56 360.70,435.87 361.68,437.61 C362.66,439.36 363.87,441.98 364.96,444.17 C366.05,446.35 367.14,448.97 368.23,450.72 C369.32,452.46 370.31,453.66 371.51,454.65 C372.71,455.63 373.25,456.24 375.44,456.61 C377.62,456.98 380.90,456.98 384.61,456.87 C388.32,456.77 394.51,456.33 397.71,455.96 C400.91,455.59 401.88,455.30 403.80,454.65 C405.73,453.99 407.24,453.23 409.24,452.03 C411.24,450.83 413.61,448.97 415.79,447.44 C417.98,445.91 420.16,444.01 422.34,442.86 C424.53,441.70 426.71,441.11 428.89,440.50 C431.08,439.89 433.26,439.27 435.44,439.19 C437.63,439.10 439.81,439.36 441.99,439.97 C444.18,440.58 446.36,441.83 448.55,442.86 C450.73,443.88 452.91,445.30 455.10,446.13 C457.28,446.96 459.25,447.40 461.65,447.83 C464.05,448.27 466.89,448.38 469.51,448.75 C472.13,449.12 474.75,449.69 477.37,450.06 C479.99,450.43 482.61,450.76 485.23,450.98 C487.85,451.20 490.58,451.31 493.09,451.37 C495.60,451.44 499.10,451.37 500.30,451.37" stroke-width="1.4"/>
</g>
</g>
<clipPath id="clipb7"><rect x="307.50" y="399.46" width="193.00" height="58.60"/></clipPath>
<text x="304.30" y="460.20" font-size="10.4" text-anchor="end" fill="#111">0</text>
<text x="304.30" y="443.26" font-size="10.4" text-anchor="end" fill="#111">2</text>
<text x="304.30" y="426.32" font-size="10.4" text-anchor="end" fill="#111">4</text>
<text x="304.30" y="409.38" font-size="10.4" text-anchor="end" fill="#111">6</text>
<text x="394.40" y="418.36" font-size="15" fill="#000">ZnPc</text>
<text x="307.50" y="469.20" font-size="10.4" text-anchor="middle" fill="#111">1.0</text>
<text x="331.62" y="469.20" font-size="10.4" text-anchor="middle" fill="#111">1.5</text>
<text x="355.75" y="469.20" font-size="10.4" text-anchor="middle" fill="#111">2.0</text>
<text x="379.88" y="469.20" font-size="10.4" text-anchor="middle" fill="#111">2.5</text>
<text x="404.00" y="469.20" font-size="10.4" text-anchor="middle" fill="#111">3.0</text>
<text x="428.12" y="469.20" font-size="10.4" text-anchor="middle" fill="#111">3.5</text>
<text x="452.25" y="469.20" font-size="10.4" text-anchor="middle" fill="#111">4.0</text>
<text x="476.38" y="469.20" font-size="10.4" text-anchor="middle" fill="#111">4.5</text>
<text x="500.50" y="469.20" font-size="10.4" text-anchor="middle" fill="#111">5.0</text>
<g stroke="#1a1a1a" stroke-width="0.9">
<path d="M560.53,11.10v2.20M560.53,68.15v-2.20"/>
<path d="M572.56,11.10v3.60M572.56,68.15v-3.60"/>
<path d="M584.59,11.10v2.20M584.59,68.15v-2.20"/>
<path d="M596.62,11.10v3.60M596.62,68.15v-3.60"/>
<path d="M608.66,11.10v2.20M608.66,68.15v-2.20"/>
<path d="M620.69,11.10v3.60M620.69,68.15v-3.60"/>
<path d="M632.72,11.10v2.20M632.72,68.15v-2.20"/>
<path d="M644.75,11.10v3.60M644.75,68.15v-3.60"/>
<path d="M656.78,11.10v2.20M656.78,68.15v-2.20"/>
<path d="M668.81,11.10v3.60M668.81,68.15v-3.60"/>
<path d="M680.84,11.10v2.20M680.84,68.15v-2.20"/>
<path d="M692.88,11.10v3.60M692.88,68.15v-3.60"/>
<path d="M704.91,11.10v2.20M704.91,68.15v-2.20"/>
<path d="M716.94,11.10v3.60M716.94,68.15v-3.60"/>
<path d="M728.97,11.10v2.20M728.97,68.15v-2.20"/>
<path d="M548.50,22.30h4.6M741.00,22.30h-4.6"/>
<path d="M548.50,37.80h4.6M741.00,37.80h-4.6"/>
<path d="M548.50,53.10h4.6M741.00,53.10h-4.6"/>
<path d="M548.50,14.70h2.6M741.00,14.70h-2.6"/>
<path d="M548.50,30.00h2.6M741.00,30.00h-2.6"/>
<path d="M548.50,45.30h2.6M741.00,45.30h-2.6"/>
<path d="M548.50,60.80h2.6M741.00,60.80h-2.6"/>
</g>
<rect x="548.50" y="11.10" width="192.50" height="57.05" fill="none" stroke="#111" stroke-width="1.05"/>
<g clip-path="url(#clipc1)">
<g fill="none" stroke="#8b0a8b" stroke-linejoin="round">
<path d="M548.62,68.01 C550.37,67.87 556.04,67.50 559.10,67.22 C562.16,66.94 564.56,66.78 566.96,66.30 C569.36,65.82 571.77,65.76 573.51,64.34 C575.26,62.92 576.35,60.41 577.44,57.79 C578.54,55.17 579.30,51.89 580.06,48.61 C580.83,45.34 581.37,40.97 582.03,38.13 C582.68,35.30 583.34,32.72 583.99,31.58 C584.65,30.45 585.30,31.76 585.96,31.32 C586.61,30.88 587.16,30.45 587.93,28.96 C588.69,27.48 589.67,24.38 590.55,22.41 C591.42,20.45 592.40,17.94 593.17,17.17 C593.93,16.41 594.37,16.73 595.13,17.83 C595.90,18.92 596.88,21.43 597.75,23.72 C598.62,26.01 599.50,28.74 600.37,31.58 C601.25,34.42 602.12,37.92 602.99,40.75 C603.87,43.59 604.63,45.99 605.61,48.61 C606.59,51.24 607.69,54.29 608.89,56.48 C610.09,58.66 611.29,60.19 612.82,61.72 C614.35,63.25 616.09,64.88 618.06,65.65 C620.02,66.41 622.43,66.30 624.61,66.30 C626.79,66.30 628.98,65.93 631.16,65.65 C633.34,65.36 635.60,64.98 637.71,64.60 C639.82,64.22 641.88,64.16 643.80,63.35 C645.73,62.55 647.46,61.99 649.24,59.75 C651.02,57.51 652.73,53.09 654.48,49.93 C656.23,46.76 657.87,43.37 659.72,40.75 C661.58,38.13 663.65,35.73 665.62,34.20 C667.58,32.67 669.66,31.58 671.51,31.58 C673.37,31.58 675.01,32.67 676.75,34.20 C678.50,35.73 680.03,38.46 681.99,40.75 C683.96,43.05 686.36,46.26 688.55,47.96 C690.73,49.66 693.13,50.38 695.10,50.97 C697.06,51.56 698.37,51.67 700.34,51.50 C702.30,51.32 704.70,50.62 706.89,49.93 C709.07,49.23 711.25,48.00 713.44,47.30 C715.62,46.61 717.81,46.10 719.99,45.73 C722.17,45.36 724.36,45.10 726.54,45.08 C728.72,45.06 730.80,45.30 733.09,45.60 C735.38,45.91 739.10,46.69 740.30,46.91" stroke-width="1.15" stroke-dasharray="0.01 2.05" stroke-linecap="round"/>
<path d="M548.62,68.01 C550.37,67.94 556.04,67.83 559.10,67.61 C562.16,67.39 564.56,67.13 566.96,66.70 C569.36,66.26 571.66,65.93 573.51,64.99 C575.37,64.05 576.68,62.92 578.10,61.06 C579.52,59.21 580.83,56.15 582.03,53.86 C583.23,51.56 584.10,48.94 585.30,47.30 C586.51,45.67 588.03,44.79 589.24,44.03 C590.44,43.27 591.53,42.87 592.51,42.72 C593.49,42.57 594.15,42.68 595.13,43.11 C596.11,43.55 597.31,44.20 598.41,45.34 C599.50,46.48 600.59,48.29 601.68,49.93 C602.77,51.56 603.76,53.42 604.96,55.17 C606.16,56.91 607.58,58.99 608.89,60.41 C610.20,61.83 611.29,62.85 612.82,63.68 C614.35,64.51 616.09,65.06 618.06,65.39 C620.02,65.71 622.43,65.71 624.61,65.65 C626.79,65.58 628.98,65.25 631.16,64.99 C633.34,64.73 635.60,64.40 637.71,64.07 C639.82,63.75 641.88,63.42 643.80,63.03 C645.73,62.63 647.46,62.48 649.24,61.72 C651.02,60.95 652.73,59.21 654.48,58.44 C656.23,57.68 657.98,57.28 659.72,57.13 C661.47,56.98 663.00,57.46 664.96,57.52 C666.93,57.59 669.55,57.26 671.51,57.52 C673.48,57.79 674.79,58.40 676.75,59.10 C678.72,59.80 681.12,60.84 683.30,61.72 C685.49,62.59 687.67,63.68 689.86,64.34 C692.04,64.99 694.00,65.43 696.41,65.65 C698.81,65.87 701.65,65.73 704.27,65.65 C706.89,65.56 709.51,65.39 712.13,65.12 C714.75,64.86 717.37,64.42 719.99,64.07 C722.61,63.73 725.23,63.25 727.85,63.03 C730.47,62.81 733.64,62.76 735.71,62.76 C737.79,62.76 739.53,62.98 740.30,63.03" stroke-width="1.2" stroke-dasharray="3 1.3 1 1.3"/>
<path d="M548.62,68.01 C550.37,67.87 556.04,67.61 559.10,67.22 C562.16,66.83 564.56,66.35 566.96,65.65 C569.36,64.95 571.66,64.23 573.51,63.03 C575.37,61.83 576.79,60.84 578.10,58.44 C579.41,56.04 580.28,52.22 581.37,48.61 C582.47,45.01 583.56,39.77 584.65,36.82 C585.74,33.88 586.83,32.35 587.93,30.93 C589.02,29.51 590.22,28.90 591.20,28.31 C592.18,27.72 592.95,27.28 593.82,27.39 C594.69,27.50 595.57,28.26 596.44,28.96 C597.31,29.66 598.19,30.27 599.06,31.58 C599.93,32.89 600.70,34.42 601.68,36.82 C602.66,39.23 603.76,42.94 604.96,45.99 C606.16,49.05 607.58,52.76 608.89,55.17 C610.20,57.57 611.29,58.99 612.82,60.41 C614.35,61.83 616.09,62.92 618.06,63.68 C620.02,64.45 622.43,64.77 624.61,64.99 C626.79,65.21 628.98,65.10 631.16,64.99 C633.34,64.88 635.60,64.69 637.71,64.34 C639.82,63.99 641.88,63.55 643.80,62.90 C645.73,62.24 647.46,61.91 649.24,60.41 C651.02,58.90 652.73,55.49 654.48,53.86 C656.23,52.22 657.98,51.19 659.72,50.58 C661.47,49.97 663.00,49.86 664.96,50.19 C666.93,50.51 669.33,51.50 671.51,52.55 C673.70,53.59 676.10,55.17 678.06,56.48 C680.03,57.79 681.34,59.10 683.30,60.41 C685.27,61.72 687.67,63.46 689.86,64.34 C692.04,65.21 694.00,65.43 696.41,65.65 C698.81,65.87 701.65,65.76 704.27,65.65 C706.89,65.54 709.51,65.43 712.13,64.99 C714.75,64.56 717.37,63.53 719.99,63.03 C722.61,62.52 725.23,62.42 727.85,61.98 C730.47,61.54 733.64,61.00 735.71,60.41 C737.79,59.82 739.53,58.77 740.30,58.44" stroke-width="1.35" stroke-dasharray="2.4 1.6"/>
<path d="M548.62,68.01 C550.37,67.94 556.04,67.83 559.10,67.61 C562.16,67.39 564.56,67.13 566.96,66.70 C569.36,66.26 571.55,65.82 573.51,64.99 C575.48,64.16 577.01,63.35 578.75,61.72 C580.50,60.08 582.47,57.24 583.99,55.17 C585.52,53.09 586.61,50.80 587.93,49.27 C589.24,47.74 590.76,46.61 591.86,45.99 C592.95,45.38 593.49,45.54 594.48,45.60 C595.46,45.67 596.66,45.67 597.75,46.39 C598.84,47.11 599.83,48.35 601.03,49.93 C602.23,51.50 603.65,54.07 604.96,55.82 C606.27,57.57 607.58,59.10 608.89,60.41 C610.20,61.72 611.29,62.81 612.82,63.68 C614.35,64.56 616.09,65.25 618.06,65.65 C620.02,66.04 622.43,66.08 624.61,66.04 C626.79,66.00 628.98,65.63 631.16,65.39 C633.34,65.14 635.60,64.85 637.71,64.60 C639.82,64.35 641.88,64.25 643.80,63.88 C645.73,63.51 647.46,63.17 649.24,62.37 C651.02,61.57 652.73,59.97 654.48,59.10 C656.23,58.22 657.98,57.24 659.72,57.13 C661.47,57.02 663.00,58.00 664.96,58.44 C666.93,58.88 669.33,59.31 671.51,59.75 C673.70,60.19 675.88,60.41 678.06,61.06 C680.25,61.72 682.43,62.92 684.61,63.68 C686.80,64.45 688.76,65.21 691.17,65.65 C693.57,66.08 696.41,66.26 699.03,66.30 C701.65,66.35 704.27,66.06 706.89,65.91 C709.51,65.76 712.13,65.65 714.75,65.39 C717.37,65.12 719.99,64.69 722.61,64.34 C725.23,63.99 727.52,63.51 730.47,63.29 C733.42,63.07 738.66,63.07 740.30,63.03" stroke-width="1.4"/>
</g>
</g>
<clipPath id="clipc1"><rect x="548.50" y="10.50" width="192.50" height="58.25"/></clipPath>
<text x="634.70" y="30.10" font-size="14.6" font-weight="bold" fill="#000">H<tspan font-size="8" dy="5.8">2</tspan><tspan dy="-5.8" dx="0.6">Pc</tspan></text>
<g stroke="#1a1a1a" stroke-width="0.9">
<path d="M560.53,75.86v2.20M560.53,132.91v-2.20"/>
<path d="M572.56,75.86v3.60M572.56,132.91v-3.60"/>
<path d="M584.59,75.86v2.20M584.59,132.91v-2.20"/>
<path d="M596.62,75.86v3.60M596.62,132.91v-3.60"/>
<path d="M608.66,75.86v2.20M608.66,132.91v-2.20"/>
<path d="M620.69,75.86v3.60M620.69,132.91v-3.60"/>
<path d="M632.72,75.86v2.20M632.72,132.91v-2.20"/>
<path d="M644.75,75.86v3.60M644.75,132.91v-3.60"/>
<path d="M656.78,75.86v2.20M656.78,132.91v-2.20"/>
<path d="M668.81,75.86v3.60M668.81,132.91v-3.60"/>
<path d="M680.84,75.86v2.20M680.84,132.91v-2.20"/>
<path d="M692.88,75.86v3.60M692.88,132.91v-3.60"/>
<path d="M704.91,75.86v2.20M704.91,132.91v-2.20"/>
<path d="M716.94,75.86v3.60M716.94,132.91v-3.60"/>
<path d="M728.97,75.86v2.20M728.97,132.91v-2.20"/>
<path d="M548.50,87.30h4.6M741.00,87.30h-4.6"/>
<path d="M548.50,102.50h4.6M741.00,102.50h-4.6"/>
<path d="M548.50,117.80h4.6M741.00,117.80h-4.6"/>
<path d="M548.50,79.70h2.6M741.00,79.70h-2.6"/>
<path d="M548.50,95.00h2.6M741.00,95.00h-2.6"/>
<path d="M548.50,110.20h2.6M741.00,110.20h-2.6"/>
<path d="M548.50,125.50h2.6M741.00,125.50h-2.6"/>
</g>
<rect x="548.50" y="75.86" width="192.50" height="57.05" fill="none" stroke="#111" stroke-width="1.05"/>
<g clip-path="url(#clipc2)">
<g fill="none" stroke="#a8101a" stroke-linejoin="round">
<path d="M548.62,131.30 C549.49,130.97 552.11,130.10 553.86,129.34 C555.61,128.57 557.35,127.81 559.10,126.72 C560.85,125.62 562.60,124.21 564.34,122.79 C566.09,121.37 568.05,119.51 569.58,118.20 C571.11,116.89 572.31,116.13 573.51,114.93 C574.71,113.72 575.81,112.52 576.79,110.99 C577.77,109.47 578.54,107.54 579.41,105.75 C580.28,103.96 581.27,100.91 582.03,100.25 C582.79,99.60 583.34,100.58 583.99,101.82 C584.65,103.07 585.20,106.19 585.96,107.72 C586.72,109.25 587.71,110.01 588.58,110.99 C589.45,111.98 590.22,112.96 591.20,113.61 C592.18,114.27 593.27,114.66 594.48,114.93 C595.68,115.19 597.10,114.75 598.41,115.19 C599.72,115.62 601.03,116.61 602.34,117.55 C603.65,118.48 604.96,119.90 606.27,120.82 C607.58,121.74 608.89,122.61 610.20,123.05 C611.51,123.48 612.82,123.59 614.13,123.44 C615.44,123.29 616.75,122.68 618.06,122.13 C619.37,121.59 620.68,120.82 621.99,120.17 C623.30,119.51 624.61,118.86 625.92,118.20 C627.23,117.55 628.54,116.74 629.85,116.24 C631.16,115.73 632.47,115.30 633.78,115.19 C635.09,115.08 636.04,115.49 637.71,115.58 C639.38,115.67 641.88,116.48 643.80,115.71 C645.73,114.95 647.24,112.39 649.24,110.99 C651.24,109.60 653.61,108.31 655.79,107.33 C657.98,106.34 660.27,105.58 662.34,105.10 C664.42,104.62 666.27,104.38 668.24,104.44 C670.20,104.51 672.06,105.10 674.13,105.49 C676.21,105.89 678.50,106.50 680.68,106.80 C682.87,107.11 685.05,107.61 687.24,107.33 C689.42,107.04 691.60,106.23 693.79,105.10 C695.97,103.96 698.15,102.04 700.34,100.51 C702.52,98.98 704.70,97.13 706.89,95.93 C709.07,94.73 711.36,93.90 713.44,93.31 C715.51,92.72 717.37,92.32 719.33,92.39 C721.30,92.46 723.16,93.00 725.23,93.70 C727.30,94.40 729.82,95.77 731.78,96.58 C733.75,97.39 735.60,97.89 737.02,98.55 C738.44,99.20 739.75,100.19 740.30,100.51" stroke-width="1.15" stroke-dasharray="0.01 2.05" stroke-linecap="round"/>
<path d="M548.62,131.30 C549.49,131.19 552.11,130.87 553.86,130.65 C555.61,130.43 557.35,130.25 559.10,129.99 C560.85,129.73 562.60,129.36 564.34,129.07 C566.09,128.79 567.84,128.46 569.58,128.29 C571.33,128.11 573.08,128.03 574.82,128.03 C576.57,128.03 578.43,128.29 580.06,128.29 C581.70,128.29 583.34,128.40 584.65,128.03 C585.96,127.66 586.83,126.83 587.93,126.06 C589.02,125.30 590.11,124.25 591.20,123.44 C592.29,122.63 593.49,121.76 594.48,121.21 C595.46,120.67 596.22,120.23 597.10,120.17 C597.97,120.10 598.84,120.49 599.72,120.82 C600.59,121.15 601.35,121.59 602.34,122.13 C603.32,122.68 604.52,123.77 605.61,124.10 C606.70,124.42 607.69,124.25 608.89,124.10 C610.09,123.94 611.51,123.22 612.82,123.18 C614.13,123.14 615.44,123.35 616.75,123.83 C618.06,124.31 619.37,125.62 620.68,126.06 C621.99,126.50 623.30,126.50 624.61,126.45 C625.92,126.41 627.23,125.97 628.54,125.80 C629.85,125.62 631.16,125.43 632.47,125.41 C633.78,125.38 635.09,125.49 636.40,125.67 C637.71,125.84 639.10,126.26 640.33,126.45 C641.57,126.65 642.32,126.91 643.80,126.85 C645.29,126.78 647.24,126.35 649.24,126.06 C651.24,125.78 653.61,125.08 655.79,125.14 C657.98,125.21 660.16,126.02 662.34,126.45 C664.53,126.89 666.71,127.39 668.89,127.76 C671.08,128.14 673.26,128.42 675.44,128.68 C677.63,128.94 679.81,129.18 681.99,129.34 C684.18,129.49 686.36,129.64 688.55,129.60 C690.73,129.56 692.91,129.29 695.10,129.07 C697.28,128.86 699.46,128.42 701.65,128.29 C703.83,128.16 706.01,128.11 708.20,128.29 C710.38,128.46 712.57,129.12 714.75,129.34 C716.93,129.56 719.12,129.82 721.30,129.60 C723.48,129.38 725.67,128.62 727.85,128.03 C730.03,127.44 732.33,126.67 734.40,126.06 C736.48,125.45 739.31,124.64 740.30,124.36" stroke-width="1.2" stroke-dasharray="3 1.3 1 1.3"/>
<path d="M548.62,130.65 C549.49,130.10 552.11,128.51 553.86,127.37 C555.61,126.24 557.35,124.93 559.10,123.83 C560.85,122.74 562.81,121.87 564.34,120.82 C565.87,119.77 567.07,118.42 568.27,117.55 C569.47,116.67 570.35,115.91 571.55,115.58 C572.75,115.25 574.06,115.80 575.48,115.58 C576.90,115.36 578.75,115.03 580.06,114.27 C581.37,113.51 582.36,112.63 583.34,110.99 C584.32,109.36 584.98,106.95 585.96,104.44 C586.94,101.93 588.25,98.77 589.24,95.93 C590.22,93.09 591.16,89.38 591.86,87.41 C592.55,85.45 592.88,84.79 593.43,84.14 C593.97,83.48 594.48,83.15 595.13,83.48 C595.79,83.81 596.59,85.01 597.36,86.10 C598.12,87.19 598.89,88.50 599.72,90.03 C600.55,91.56 601.46,93.96 602.34,95.27 C603.21,96.58 603.97,97.78 604.96,97.89 C605.94,98.00 607.14,96.63 608.23,95.93 C609.32,95.23 610.53,93.98 611.51,93.70 C612.49,93.42 613.15,93.53 614.13,94.22 C615.11,94.92 616.31,96.84 617.40,97.89 C618.50,98.94 619.48,100.12 620.68,100.51 C621.88,100.91 623.30,100.58 624.61,100.25 C625.92,99.92 627.23,98.72 628.54,98.55 C629.85,98.37 631.16,98.22 632.47,99.20 C633.78,100.19 635.09,102.81 636.40,104.44 C637.71,106.08 639.10,107.94 640.33,109.03 C641.57,110.12 642.32,110.45 643.80,110.99 C645.29,111.54 647.24,112.35 649.24,112.30 C651.24,112.26 653.61,111.28 655.79,110.73 C657.98,110.19 660.27,109.16 662.34,109.03 C664.42,108.90 666.27,109.44 668.24,109.95 C670.20,110.45 672.06,111.39 674.13,112.04 C676.21,112.70 678.50,113.35 680.68,113.88 C682.87,114.40 685.27,114.97 687.24,115.19 C689.20,115.41 690.73,115.34 692.48,115.19 C694.22,115.03 696.19,114.53 697.72,114.27 C699.25,114.01 700.34,113.55 701.65,113.61 C702.96,113.68 704.05,114.01 705.58,114.66 C707.11,115.32 709.07,116.74 710.82,117.55 C712.57,118.35 714.31,119.29 716.06,119.51 C717.81,119.73 719.55,119.62 721.30,118.86 C723.05,118.09 724.79,116.34 726.54,114.93 C728.29,113.51 730.03,111.98 731.78,110.34 C733.53,108.70 735.60,106.47 737.02,105.10 C738.44,103.72 739.75,102.59 740.30,102.09" stroke-width="1.35" stroke-dasharray="2.4 1.6"/>
<path d="M548.62,129.99 C549.49,129.56 552.11,128.35 553.86,127.37 C555.61,126.39 557.35,125.30 559.10,124.10 C560.85,122.90 562.81,121.69 564.34,120.17 C565.87,118.64 567.07,116.56 568.27,114.93 C569.47,113.29 570.57,111.43 571.55,110.34 C572.53,109.25 573.19,108.81 574.17,108.37 C575.15,107.94 576.35,108.05 577.44,107.72 C578.54,107.39 579.74,107.17 580.72,106.41 C581.70,105.64 582.47,104.66 583.34,103.13 C584.21,101.61 585.09,99.42 585.96,97.24 C586.83,95.05 587.71,92.11 588.58,90.03 C589.45,87.96 590.33,86.06 591.20,84.79 C592.07,83.52 592.84,82.76 593.82,82.43 C594.80,82.11 596.00,82.48 597.10,82.83 C598.19,83.18 599.28,83.87 600.37,84.53 C601.46,85.18 602.56,86.39 603.65,86.76 C604.74,87.13 605.83,86.87 606.92,86.76 C608.01,86.65 609.11,85.95 610.20,86.10 C611.29,86.25 612.27,87.13 613.47,87.67 C614.67,88.22 616.09,89.03 617.40,89.38 C618.71,89.73 620.13,89.77 621.33,89.77 C622.54,89.77 623.52,89.11 624.61,89.38 C625.70,89.64 626.79,90.14 627.89,91.34 C628.98,92.54 629.96,94.62 631.16,96.58 C632.36,98.55 633.78,101.34 635.09,103.13 C636.40,104.92 637.57,106.18 639.02,107.33 C640.47,108.47 642.10,109.29 643.80,110.01 C645.51,110.73 647.24,111.70 649.24,111.65 C651.24,111.60 653.61,110.45 655.79,109.68 C657.98,108.92 660.27,107.83 662.34,107.06 C664.42,106.30 666.27,105.14 668.24,105.10 C670.20,105.06 672.06,106.04 674.13,106.80 C676.21,107.57 678.50,108.72 680.68,109.68 C682.87,110.65 685.27,112.02 687.24,112.57 C689.20,113.11 690.73,113.22 692.48,112.96 C694.22,112.70 696.19,111.43 697.72,110.99 C699.25,110.56 700.34,110.12 701.65,110.34 C702.96,110.56 704.05,111.43 705.58,112.30 C707.11,113.18 709.07,114.75 710.82,115.58 C712.57,116.41 714.31,117.17 716.06,117.28 C717.81,117.39 719.55,117.07 721.30,116.24 C723.05,115.41 724.79,114.05 726.54,112.30 C728.29,110.56 730.03,107.94 731.78,105.75 C733.53,103.57 735.60,100.78 737.02,99.20 C738.44,97.63 739.75,96.80 740.30,96.32" stroke-width="1.4"/>
</g>
</g>
<clipPath id="clipc2"><rect x="548.50" y="75.26" width="192.50" height="58.25"/></clipPath>
<text x="632.20" y="94.96" font-size="14.6" font-weight="bold" fill="#000">MnPc</text>
<g stroke="#1a1a1a" stroke-width="0.9">
<path d="M560.53,140.62v2.20M560.53,197.67v-2.20"/>
<path d="M572.56,140.62v3.60M572.56,197.67v-3.60"/>
<path d="M584.59,140.62v2.20M584.59,197.67v-2.20"/>
<path d="M596.62,140.62v3.60M596.62,197.67v-3.60"/>
<path d="M608.66,140.62v2.20M608.66,197.67v-2.20"/>
<path d="M620.69,140.62v3.60M620.69,197.67v-3.60"/>
<path d="M632.72,140.62v2.20M632.72,197.67v-2.20"/>
<path d="M644.75,140.62v3.60M644.75,197.67v-3.60"/>
<path d="M656.78,140.62v2.20M656.78,197.67v-2.20"/>
<path d="M668.81,140.62v3.60M668.81,197.67v-3.60"/>
<path d="M680.84,140.62v2.20M680.84,197.67v-2.20"/>
<path d="M692.88,140.62v3.60M692.88,197.67v-3.60"/>
<path d="M704.91,140.62v2.20M704.91,197.67v-2.20"/>
<path d="M716.94,140.62v3.60M716.94,197.67v-3.60"/>
<path d="M728.97,140.62v2.20M728.97,197.67v-2.20"/>
<path d="M548.50,151.90h4.6M741.00,151.90h-4.6"/>
<path d="M548.50,174.90h4.6M741.00,174.90h-4.6"/>
<path d="M548.50,163.40h2.6M741.00,163.40h-2.6"/>
<path d="M548.50,186.40h2.6M741.00,186.40h-2.6"/>
</g>
<rect x="548.50" y="140.62" width="192.50" height="57.05" fill="none" stroke="#111" stroke-width="1.05"/>
<g clip-path="url(#clipc3)">
<g fill="none" stroke="#008585" stroke-linejoin="round">
<path d="M548.62,194.34 C549.49,194.34 552.11,194.45 553.86,194.34 C555.61,194.23 557.35,193.90 559.10,193.68 C560.85,193.46 562.60,193.46 564.34,193.03 C566.09,192.59 567.95,191.93 569.58,191.06 C571.22,190.19 572.86,189.21 574.17,187.79 C575.48,186.37 576.35,184.29 577.44,182.55 C578.54,180.80 579.63,179.05 580.72,177.30 C581.81,175.56 582.90,173.59 583.99,172.06 C585.09,170.54 586.18,169.23 587.27,168.13 C588.36,167.04 589.45,166.28 590.55,165.51 C591.64,164.75 592.84,163.88 593.82,163.55 C594.80,163.22 595.46,162.78 596.44,163.55 C597.42,164.31 598.73,166.50 599.72,168.13 C600.70,169.77 601.35,171.85 602.34,173.37 C603.32,174.90 604.52,175.99 605.61,177.30 C606.70,178.61 607.69,179.49 608.89,181.24 C610.09,182.98 611.51,186.26 612.82,187.79 C614.13,189.31 615.22,189.97 616.75,190.41 C618.28,190.84 620.24,190.52 621.99,190.41 C623.74,190.30 625.48,190.08 627.23,189.75 C628.98,189.42 630.72,188.81 632.47,188.44 C634.22,188.07 635.82,187.93 637.71,187.52 C639.60,187.12 641.88,186.63 643.80,186.02 C645.73,185.41 647.24,184.98 649.24,183.86 C651.24,182.73 653.61,181.13 655.79,179.27 C657.98,177.41 660.38,175.12 662.34,172.72 C664.31,170.32 665.62,167.15 667.58,164.86 C669.55,162.57 672.06,160.27 674.13,158.96 C676.21,157.65 678.06,157.11 680.03,157.00 C681.99,156.89 683.63,157.65 685.93,158.31 C688.22,158.96 691.17,159.99 693.79,160.93 C696.41,161.87 699.03,162.96 701.65,163.94 C704.27,164.92 706.89,165.80 709.51,166.82 C712.13,167.85 714.75,169.12 717.37,170.10 C719.99,171.08 722.83,172.06 725.23,172.72 C727.63,173.37 729.82,174.36 731.78,174.03 C733.75,173.70 735.60,171.74 737.02,170.75 C738.44,169.77 739.75,168.57 740.30,168.13" stroke-width="1.15" stroke-dasharray="0.01 2.05" stroke-linecap="round"/>
<path d="M548.62,194.99 C549.49,195.06 552.11,195.28 553.86,195.39 C555.61,195.49 557.35,195.60 559.10,195.65 C560.85,195.69 562.60,195.69 564.34,195.65 C566.09,195.60 567.84,195.49 569.58,195.39 C571.33,195.28 573.08,195.17 574.82,194.99 C576.57,194.82 578.32,194.77 580.06,194.34 C581.81,193.90 583.56,193.25 585.30,192.37 C587.05,191.50 588.80,190.19 590.55,189.10 C592.29,188.00 594.26,186.65 595.79,185.82 C597.31,184.99 598.52,184.34 599.72,184.12 C600.92,183.90 601.90,184.12 602.99,184.51 C604.08,184.90 605.07,185.67 606.27,186.48 C607.47,187.28 608.89,188.48 610.20,189.36 C611.51,190.23 612.60,191.11 614.13,191.72 C615.66,192.33 617.62,192.81 619.37,193.03 C621.12,193.25 622.64,192.92 624.61,193.03 C626.57,193.14 628.98,193.57 631.16,193.68 C633.34,193.79 635.60,193.71 637.71,193.68 C639.82,193.65 641.88,193.64 643.80,193.49 C645.73,193.33 647.46,193.10 649.24,192.76 C651.02,192.43 652.73,191.80 654.48,191.45 C656.23,191.11 657.76,190.52 659.72,190.67 C661.69,190.82 664.09,191.80 666.27,192.37 C668.46,192.94 670.42,193.57 672.82,194.07 C675.23,194.58 678.06,195.12 680.68,195.39 C683.30,195.65 685.93,195.71 688.55,195.65 C691.17,195.58 693.79,195.17 696.41,194.99 C699.03,194.82 701.65,194.60 704.27,194.60 C706.89,194.60 709.73,194.86 712.13,194.99 C714.53,195.12 716.50,195.54 718.68,195.39 C720.86,195.23 723.05,194.51 725.23,194.07 C727.41,193.64 729.82,193.20 731.78,192.76 C733.75,192.33 735.60,191.80 737.02,191.45 C738.44,191.11 739.75,190.80 740.30,190.67" stroke-width="1.2" stroke-dasharray="3 1.3 1 1.3"/>
<path d="M548.62,194.07 C549.49,193.73 552.11,192.48 553.86,191.98 C555.61,191.48 557.35,191.21 559.10,191.06 C560.85,190.91 562.60,191.00 564.34,191.06 C566.09,191.13 567.95,191.56 569.58,191.45 C571.22,191.35 572.75,190.91 574.17,190.41 C575.59,189.90 576.79,189.64 578.10,188.44 C579.41,187.24 580.83,185.27 582.03,183.20 C583.23,181.13 584.21,178.94 585.30,175.99 C586.40,173.05 587.60,168.68 588.58,165.51 C589.56,162.35 590.22,159.29 591.20,157.00 C592.18,154.70 593.38,153.07 594.48,151.76 C595.57,150.45 596.66,149.79 597.75,149.14 C598.84,148.48 599.93,147.61 601.03,147.83 C602.12,148.04 603.21,149.03 604.30,150.45 C605.39,151.87 606.38,153.94 607.58,156.34 C608.78,158.74 610.20,162.24 611.51,164.86 C612.82,167.48 614.13,169.99 615.44,172.06 C616.75,174.14 618.06,175.78 619.37,177.30 C620.68,178.83 621.99,180.25 623.30,181.24 C624.61,182.22 625.70,182.76 627.23,183.20 C628.76,183.64 630.72,183.86 632.47,183.86 C634.22,183.86 635.82,183.47 637.71,183.20 C639.60,182.93 641.88,182.44 643.80,182.22 C645.73,182.00 647.24,182.49 649.24,181.89 C651.24,181.29 653.61,179.71 655.79,178.61 C657.98,177.52 660.38,175.89 662.34,175.34 C664.31,174.79 665.84,174.90 667.58,175.34 C669.33,175.78 670.86,176.76 672.82,177.96 C674.79,179.16 677.19,181.24 679.37,182.55 C681.56,183.86 683.74,185.27 685.93,185.82 C688.11,186.37 690.51,185.97 692.48,185.82 C694.44,185.67 695.97,184.97 697.72,184.90 C699.46,184.84 700.99,184.95 702.96,185.43 C704.92,185.91 707.32,187.28 709.51,187.79 C711.69,188.29 713.88,188.77 716.06,188.44 C718.24,188.11 720.43,187.02 722.61,185.82 C724.79,184.62 726.98,182.87 729.16,181.24 C731.34,179.60 733.86,177.30 735.71,175.99 C737.57,174.68 739.53,173.81 740.30,173.37" stroke-width="1.35" stroke-dasharray="2.4 1.6"/>
<path d="M548.62,192.76 C549.49,192.26 552.11,190.47 553.86,189.75 C555.61,189.03 557.35,188.55 559.10,188.44 C560.85,188.33 562.60,188.81 564.34,189.10 C566.09,189.38 567.95,190.14 569.58,190.14 C571.22,190.14 572.75,189.82 574.17,189.10 C575.59,188.38 576.79,187.35 578.10,185.82 C579.41,184.29 580.83,182.22 582.03,179.93 C583.23,177.63 584.21,174.90 585.30,172.06 C586.40,169.23 587.49,165.73 588.58,162.89 C589.67,160.05 590.65,157.43 591.86,155.03 C593.06,152.63 594.59,150.45 595.79,148.48 C596.99,146.52 598.19,144.44 599.06,143.24 C599.93,142.04 600.26,141.17 601.03,141.28 C601.79,141.38 602.66,142.26 603.65,143.90 C604.63,145.53 605.83,148.37 606.92,151.10 C608.01,153.83 609.00,157.43 610.20,160.27 C611.40,163.11 612.82,165.73 614.13,168.13 C615.44,170.54 616.75,172.94 618.06,174.68 C619.37,176.43 620.68,177.63 621.99,178.61 C623.30,179.60 624.39,180.25 625.92,180.58 C627.45,180.91 629.41,180.73 631.16,180.58 C632.91,180.43 634.87,179.77 636.40,179.66 C637.93,179.55 639.10,179.74 640.33,179.93 C641.57,180.11 642.32,180.56 643.80,180.78 C645.29,181.00 647.24,181.70 649.24,181.24 C651.24,180.77 653.61,179.23 655.79,177.96 C657.98,176.69 660.38,174.73 662.34,173.64 C664.31,172.54 665.84,171.34 667.58,171.41 C669.33,171.47 670.86,172.61 672.82,174.03 C674.79,175.45 677.19,178.18 679.37,179.93 C681.56,181.67 683.74,183.86 685.93,184.51 C688.11,185.17 690.51,184.18 692.48,183.86 C694.44,183.53 695.97,182.59 697.72,182.55 C699.46,182.50 700.99,182.98 702.96,183.59 C704.92,184.20 707.32,185.62 709.51,186.21 C711.69,186.80 713.88,187.41 716.06,187.13 C718.24,186.85 720.43,186.04 722.61,184.51 C724.79,182.98 726.98,180.14 729.16,177.96 C731.34,175.78 733.86,172.94 735.71,171.41 C737.57,169.88 739.53,169.23 740.30,168.79" stroke-width="1.4"/>
</g>
</g>
<clipPath id="clipc3"><rect x="548.50" y="140.02" width="192.50" height="58.25"/></clipPath>
<text x="634.90" y="159.67" font-size="14.6" font-weight="bold" fill="#000">FePc</text>
<g stroke="#1a1a1a" stroke-width="0.9">
<path d="M560.53,205.38v2.20M560.53,262.43v-2.20"/>
<path d="M572.56,205.38v3.60M572.56,262.43v-3.60"/>
<path d="M584.59,205.38v2.20M584.59,262.43v-2.20"/>
<path d="M596.62,205.38v3.60M596.62,262.43v-3.60"/>
<path d="M608.66,205.38v2.20M608.66,262.43v-2.20"/>
<path d="M620.69,205.38v3.60M620.69,262.43v-3.60"/>
<path d="M632.72,205.38v2.20M632.72,262.43v-2.20"/>
<path d="M644.75,205.38v3.60M644.75,262.43v-3.60"/>
<path d="M656.78,205.38v2.20M656.78,262.43v-2.20"/>
<path d="M668.81,205.38v3.60M668.81,262.43v-3.60"/>
<path d="M680.84,205.38v2.20M680.84,262.43v-2.20"/>
<path d="M692.88,205.38v3.60M692.88,262.43v-3.60"/>
<path d="M704.91,205.38v2.20M704.91,262.43v-2.20"/>
<path d="M716.94,205.38v3.60M716.94,262.43v-3.60"/>
<path d="M728.97,205.38v2.20M728.97,262.43v-2.20"/>
<path d="M548.50,224.40h4.6M741.00,224.40h-4.6"/>
<path d="M548.50,243.40h4.6M741.00,243.40h-4.6"/>
<path d="M548.50,214.20h2.6M741.00,214.20h-2.6"/>
<path d="M548.50,233.20h2.6M741.00,233.20h-2.6"/>
<path d="M548.50,252.80h2.6M741.00,252.80h-2.6"/>
</g>
<rect x="548.50" y="205.38" width="192.50" height="57.05" fill="none" stroke="#111" stroke-width="1.05"/>
<g clip-path="url(#clipc4)">
<g fill="none" stroke="#0000f5" stroke-linejoin="round">
<path d="M548.62,260.65 C549.49,260.65 552.11,260.76 553.86,260.65 C555.61,260.54 557.35,260.21 559.10,259.99 C560.85,259.77 562.60,259.66 564.34,259.34 C566.09,259.01 567.84,258.68 569.58,258.03 C571.33,257.37 573.40,257.15 574.82,255.41 C576.24,253.66 577.12,250.38 578.10,247.55 C579.08,244.71 579.85,241.43 580.72,238.37 C581.59,235.32 582.58,231.82 583.34,229.20 C584.10,226.58 584.65,223.96 585.30,222.65 C585.96,221.34 586.61,221.45 587.27,221.34 C587.93,221.23 588.47,222.00 589.24,222.00 C590.00,222.00 590.98,222.11 591.86,221.34 C592.73,220.58 593.65,218.61 594.48,217.41 C595.31,216.21 596.07,214.14 596.83,214.14 C597.60,214.14 598.36,215.56 599.06,217.41 C599.76,219.27 600.26,222.43 601.03,225.27 C601.79,228.11 602.77,231.39 603.65,234.44 C604.52,237.50 605.28,240.99 606.27,243.61 C607.25,246.24 608.45,248.42 609.54,250.17 C610.63,251.91 611.62,253.00 612.82,254.10 C614.02,255.19 615.22,255.95 616.75,256.72 C618.28,257.48 620.24,258.25 621.99,258.68 C623.74,259.12 625.48,259.23 627.23,259.34 C628.98,259.45 630.72,259.45 632.47,259.34 C634.22,259.23 635.82,258.90 637.71,258.68 C639.60,258.46 641.88,258.57 643.80,258.03 C645.73,257.48 647.24,256.72 649.24,255.41 C651.24,254.10 653.61,252.35 655.79,250.17 C657.98,247.98 660.38,244.93 662.34,242.30 C664.31,239.68 665.84,237.06 667.58,234.44 C669.33,231.82 671.08,228.66 672.82,226.58 C674.57,224.51 676.43,222.87 678.06,222.00 C679.70,221.12 680.90,221.12 682.65,221.34 C684.40,221.56 686.47,222.83 688.55,223.31 C690.62,223.79 692.91,223.94 695.10,224.22 C697.28,224.51 699.46,224.73 701.65,225.01 C703.83,225.29 706.01,225.45 708.20,225.93 C710.38,226.41 712.57,227.02 714.75,227.89 C716.93,228.77 719.12,229.86 721.30,231.17 C723.48,232.48 725.67,234.23 727.85,235.75 C730.03,237.28 732.33,238.81 734.40,240.34 C736.48,241.87 739.31,244.16 740.30,244.93" stroke-width="1.15" stroke-dasharray="0.01 2.05" stroke-linecap="round"/>
<path d="M548.62,260.65 C549.49,260.69 552.11,260.91 553.86,260.91 C555.61,260.91 557.35,260.69 559.10,260.65 C560.85,260.60 562.60,260.65 564.34,260.65 C566.09,260.65 567.95,260.76 569.58,260.65 C571.22,260.54 572.64,260.32 574.17,259.99 C575.70,259.66 577.12,259.23 578.75,258.68 C580.39,258.14 582.25,257.59 583.99,256.72 C585.74,255.84 587.60,254.49 589.24,253.44 C590.87,252.39 592.40,251.24 593.82,250.43 C595.24,249.62 596.55,248.75 597.75,248.59 C598.95,248.44 599.93,248.92 601.03,249.51 C602.12,250.10 603.21,251.15 604.30,252.13 C605.39,253.11 606.38,254.42 607.58,255.41 C608.78,256.39 609.98,257.33 611.51,258.03 C613.04,258.73 615.00,259.27 616.75,259.60 C618.50,259.93 620.24,259.86 621.99,259.99 C623.74,260.12 625.48,260.32 627.23,260.39 C628.98,260.45 630.72,260.45 632.47,260.39 C634.22,260.32 635.82,260.17 637.71,259.99 C639.60,259.82 641.88,259.66 643.80,259.34 C645.73,259.01 647.46,258.68 649.24,258.03 C651.02,257.37 652.84,255.95 654.48,255.41 C656.12,254.86 657.54,254.75 659.07,254.75 C660.60,254.75 662.01,254.97 663.65,255.41 C665.29,255.84 666.93,256.76 668.89,257.37 C670.86,257.98 673.04,258.64 675.44,259.07 C677.85,259.51 680.68,259.84 683.30,259.99 C685.93,260.14 688.55,259.93 691.17,259.99 C693.79,260.06 696.41,260.28 699.03,260.39 C701.65,260.49 704.27,260.65 706.89,260.65 C709.51,260.65 712.13,260.56 714.75,260.39 C717.37,260.21 720.21,259.88 722.61,259.60 C725.01,259.32 726.98,259.05 729.16,258.68 C731.34,258.31 733.86,257.81 735.71,257.37 C737.57,256.93 739.53,256.28 740.30,256.06" stroke-width="1.2" stroke-dasharray="3 1.3 1 1.3"/>
<path d="M548.62,260.65 C549.49,260.60 552.11,260.56 553.86,260.39 C555.61,260.21 557.35,259.82 559.10,259.60 C560.85,259.38 562.60,259.34 564.34,259.07 C566.09,258.81 567.84,258.64 569.58,258.03 C571.33,257.42 573.19,256.50 574.82,255.41 C576.46,254.31 578.10,253.00 579.41,251.48 C580.72,249.95 581.70,248.42 582.68,246.24 C583.67,244.05 584.32,241.43 585.30,238.37 C586.29,235.32 587.60,231.17 588.58,227.89 C589.56,224.62 590.33,221.12 591.20,218.72 C592.07,216.32 592.95,214.68 593.82,213.48 C594.69,212.28 595.57,211.52 596.44,211.52 C597.31,211.52 598.08,212.06 599.06,213.48 C600.04,214.90 601.25,217.19 602.34,220.03 C603.43,222.87 604.52,227.02 605.61,230.51 C606.70,234.01 607.80,238.16 608.89,240.99 C609.98,243.83 611.07,245.80 612.16,247.55 C613.25,249.29 614.24,250.38 615.44,251.48 C616.64,252.57 617.84,253.40 619.37,254.10 C620.90,254.80 622.86,255.34 624.61,255.67 C626.36,256.00 628.10,256.11 629.85,256.06 C631.60,256.02 633.34,255.69 635.09,255.41 C636.84,255.12 638.88,254.69 640.33,254.36 C641.78,254.03 642.32,254.47 643.80,253.44 C645.29,252.41 647.24,250.27 649.24,248.20 C651.24,246.13 653.83,242.96 655.79,240.99 C657.76,239.03 659.39,237.39 661.03,236.41 C662.67,235.43 664.09,234.77 665.62,235.10 C667.15,235.43 668.57,236.95 670.20,238.37 C671.84,239.79 673.70,242.20 675.44,243.61 C677.19,245.03 678.72,245.91 680.68,246.89 C682.65,247.87 685.05,248.64 687.24,249.51 C689.42,250.38 691.60,251.26 693.79,252.13 C695.97,253.00 698.15,254.03 700.34,254.75 C702.52,255.47 704.92,256.17 706.89,256.45 C708.85,256.74 710.38,256.74 712.13,256.45 C713.88,256.17 715.62,255.47 717.37,254.75 C719.12,254.03 720.86,253.11 722.61,252.13 C724.36,251.15 726.10,249.95 727.85,248.86 C729.60,247.76 731.45,246.56 733.09,245.58 C734.73,244.60 736.48,243.51 737.68,242.96 C738.88,242.41 739.86,242.41 740.30,242.30" stroke-width="1.35" stroke-dasharray="2.4 1.6"/>
<path d="M548.62,259.99 C549.49,259.99 552.11,260.10 553.86,259.99 C555.61,259.88 557.35,259.56 559.10,259.34 C560.85,259.12 562.60,259.01 564.34,258.68 C566.09,258.35 567.84,258.03 569.58,257.37 C571.33,256.72 573.30,255.95 574.82,254.75 C576.35,253.55 577.44,252.24 578.75,250.17 C580.06,248.09 581.48,245.25 582.68,242.30 C583.89,239.36 584.87,235.97 585.96,232.48 C587.05,228.98 588.25,224.51 589.24,221.34 C590.22,218.18 590.98,215.49 591.86,213.48 C592.73,211.47 593.71,210.12 594.48,209.29 C595.24,208.46 595.68,208.24 596.44,208.50 C597.21,208.76 598.08,209.49 599.06,210.86 C600.04,212.24 601.25,214.14 602.34,216.76 C603.43,219.38 604.52,223.20 605.61,226.58 C606.70,229.97 607.80,234.01 608.89,237.06 C609.98,240.12 611.07,242.74 612.16,244.93 C613.25,247.11 614.24,248.75 615.44,250.17 C616.64,251.59 617.84,252.52 619.37,253.44 C620.90,254.36 622.86,255.12 624.61,255.67 C626.36,256.21 628.10,256.65 629.85,256.72 C631.60,256.78 633.34,256.50 635.09,256.06 C636.84,255.62 638.88,254.82 640.33,254.10 C641.78,253.38 642.32,253.05 643.80,251.74 C645.29,250.43 647.24,248.46 649.24,246.24 C651.24,244.01 653.83,240.45 655.79,238.37 C657.76,236.30 659.39,234.84 661.03,233.79 C662.67,232.74 664.09,231.98 665.62,232.09 C667.15,232.19 668.57,233.07 670.20,234.44 C671.84,235.82 673.70,238.55 675.44,240.34 C677.19,242.13 678.72,243.88 680.68,245.19 C682.65,246.50 685.05,247.26 687.24,248.20 C689.42,249.14 691.60,249.95 693.79,250.82 C695.97,251.69 698.15,252.68 700.34,253.44 C702.52,254.21 704.92,255.04 706.89,255.41 C708.85,255.78 710.38,255.89 712.13,255.67 C713.88,255.45 715.62,254.90 717.37,254.10 C719.12,253.29 720.86,252.13 722.61,250.82 C724.36,249.51 726.10,247.76 727.85,246.24 C729.60,244.71 731.45,242.96 733.09,241.65 C734.73,240.34 736.48,238.96 737.68,238.37 C738.88,237.78 739.86,238.16 740.30,238.11" stroke-width="1.4"/>
</g>
</g>
<clipPath id="clipc4"><rect x="548.50" y="204.78" width="192.50" height="58.25"/></clipPath>
<text x="635.10" y="224.58" font-size="14.6" font-weight="bold" fill="#000">CoPc</text>
<g stroke="#1a1a1a" stroke-width="0.9">
<path d="M560.53,270.14v2.20M560.53,327.19v-2.20"/>
<path d="M572.56,270.14v3.60M572.56,327.19v-3.60"/>
<path d="M584.59,270.14v2.20M584.59,327.19v-2.20"/>
<path d="M596.62,270.14v3.60M596.62,327.19v-3.60"/>
<path d="M608.66,270.14v2.20M608.66,327.19v-2.20"/>
<path d="M620.69,270.14v3.60M620.69,327.19v-3.60"/>
<path d="M632.72,270.14v2.20M632.72,327.19v-2.20"/>
<path d="M644.75,270.14v3.60M644.75,327.19v-3.60"/>
<path d="M656.78,270.14v2.20M656.78,327.19v-2.20"/>
<path d="M668.81,270.14v3.60M668.81,327.19v-3.60"/>
<path d="M680.84,270.14v2.20M680.84,327.19v-2.20"/>
<path d="M692.88,270.14v3.60M692.88,327.19v-3.60"/>
<path d="M704.91,270.14v2.20M704.91,327.19v-2.20"/>
<path d="M716.94,270.14v3.60M716.94,327.19v-3.60"/>
<path d="M728.97,270.14v2.20M728.97,327.19v-2.20"/>
<path d="M548.50,277.50h4.6M741.00,277.50h-4.6"/>
<path d="M548.50,290.00h4.6M741.00,290.00h-4.6"/>
<path d="M548.50,302.20h4.6M741.00,302.20h-4.6"/>
<path d="M548.50,314.80h4.6M741.00,314.80h-4.6"/>
<path d="M548.50,283.70h2.6M741.00,283.70h-2.6"/>
<path d="M548.50,296.10h2.6M741.00,296.10h-2.6"/>
<path d="M548.50,308.60h2.6M741.00,308.60h-2.6"/>
<path d="M548.50,320.80h2.6M741.00,320.80h-2.6"/>
</g>
<rect x="548.50" y="270.14" width="192.50" height="57.05" fill="none" stroke="#111" stroke-width="1.05"/>
<g clip-path="url(#clipc5)">
<g fill="none" stroke="#808080" stroke-linejoin="round">
<path d="M548.62,326.70 C549.93,326.63 553.86,326.48 556.48,326.30 C559.10,326.13 561.72,325.93 564.34,325.65 C566.96,325.36 570.02,324.93 572.20,324.60 C574.39,324.27 576.02,324.38 577.44,323.68 C578.86,322.98 579.85,322.48 580.72,320.41 C581.59,318.33 582.03,315.17 582.68,311.24 C583.34,307.30 583.99,300.75 584.65,296.82 C585.30,292.89 585.96,289.62 586.61,287.65 C587.27,285.69 587.82,285.69 588.58,285.03 C589.34,284.38 590.33,284.92 591.20,283.72 C592.07,282.52 593.10,279.25 593.82,277.83 C594.54,276.41 594.93,274.88 595.52,275.21 C596.11,275.53 596.77,277.72 597.36,279.79 C597.95,281.87 598.45,284.81 599.06,287.65 C599.67,290.49 600.26,293.55 601.03,296.82 C601.79,300.10 602.77,304.03 603.65,307.30 C604.52,310.58 605.28,314.07 606.27,316.48 C607.25,318.88 608.34,320.41 609.54,321.72 C610.74,323.03 611.84,323.73 613.47,324.34 C615.11,324.95 617.29,325.17 619.37,325.39 C621.44,325.60 623.95,325.60 625.92,325.65 C627.89,325.69 629.20,325.69 631.16,325.65 C633.13,325.60 635.60,325.46 637.71,325.39 C639.82,325.31 641.88,325.58 643.80,325.19 C645.73,324.80 647.24,323.82 649.24,323.03 C651.24,322.23 653.83,321.61 655.79,320.41 C657.76,319.21 659.29,317.35 661.03,315.82 C662.78,314.29 664.53,312.55 666.27,311.24 C668.02,309.93 669.55,308.79 671.51,307.96 C673.48,307.13 675.88,306.15 678.06,306.26 C680.25,306.37 682.65,307.83 684.61,308.61 C686.58,309.40 687.89,311.19 689.86,310.97 C691.82,310.75 694.33,308.57 696.41,307.30 C698.48,306.04 700.34,303.59 702.30,303.37 C704.27,303.16 706.34,305.34 708.20,305.99 C710.05,306.65 711.25,307.30 713.44,307.30 C715.62,307.30 718.90,305.99 721.30,305.99 C723.70,305.99 725.67,306.65 727.85,307.30 C730.03,307.96 732.33,309.05 734.40,309.93 C736.48,310.80 739.31,312.11 740.30,312.55" stroke-width="1.15" stroke-dasharray="0.01 2.05" stroke-linecap="round"/>
<path d="M548.62,326.70 C549.93,326.70 553.86,326.70 556.48,326.70 C559.10,326.70 561.72,326.76 564.34,326.70 C566.96,326.63 569.80,326.48 572.20,326.30 C574.61,326.13 576.57,326.08 578.75,325.65 C580.94,325.21 583.34,324.45 585.30,323.68 C587.27,322.92 589.02,321.83 590.55,321.06 C592.07,320.30 593.34,319.60 594.48,319.10 C595.61,318.59 596.38,318.05 597.36,318.05 C598.34,318.05 599.32,318.59 600.37,319.10 C601.42,319.60 602.45,320.41 603.65,321.06 C604.85,321.72 606.27,322.44 607.58,323.03 C608.89,323.62 609.98,324.16 611.51,324.60 C613.04,325.04 615.00,325.43 616.75,325.65 C618.50,325.87 620.24,325.87 621.99,325.91 C623.74,325.95 625.48,325.95 627.23,325.91 C628.98,325.87 630.72,325.69 632.47,325.65 C634.22,325.60 635.82,325.69 637.71,325.65 C639.60,325.60 641.88,325.60 643.80,325.39 C645.73,325.17 647.24,324.73 649.24,324.34 C651.24,323.94 653.61,323.29 655.79,323.03 C657.98,322.76 660.16,322.66 662.34,322.76 C664.53,322.87 666.49,323.42 668.89,323.68 C671.30,323.94 673.92,324.18 676.75,324.34 C679.59,324.49 682.65,324.56 685.93,324.60 C689.20,324.64 693.13,324.60 696.41,324.60 C699.68,324.60 702.52,324.64 705.58,324.60 C708.63,324.56 711.91,324.42 714.75,324.34 C717.59,324.25 719.99,324.18 722.61,324.07 C725.23,323.97 727.52,323.90 730.47,323.68 C733.42,323.46 738.66,322.92 740.30,322.76" stroke-width="1.2" stroke-dasharray="3 1.3 1 1.3"/>
<path d="M548.62,326.70 C549.93,326.63 553.86,326.48 556.48,326.30 C559.10,326.13 561.72,325.97 564.34,325.65 C566.96,325.32 570.02,324.88 572.20,324.34 C574.39,323.79 575.92,323.46 577.44,322.37 C578.97,321.28 580.28,319.64 581.37,317.79 C582.47,315.93 583.12,313.64 583.99,311.24 C584.87,308.83 585.74,305.67 586.61,303.37 C587.49,301.08 588.36,298.90 589.24,297.48 C590.11,296.06 590.98,295.40 591.86,294.86 C592.73,294.31 593.49,294.05 594.48,294.20 C595.46,294.36 596.66,294.68 597.75,295.78 C598.84,296.87 599.93,298.83 601.03,300.75 C602.12,302.68 603.21,305.12 604.30,307.30 C605.39,309.49 606.38,311.89 607.58,313.86 C608.78,315.82 610.20,317.68 611.51,319.10 C612.82,320.52 613.91,321.54 615.44,322.37 C616.97,323.20 618.93,323.64 620.68,324.07 C622.43,324.51 624.17,324.84 625.92,324.99 C627.67,325.14 629.20,325.06 631.16,324.99 C633.13,324.93 635.60,324.97 637.71,324.60 C639.82,324.23 641.88,323.68 643.80,322.76 C645.73,321.85 647.24,320.36 649.24,319.10 C651.24,317.83 653.83,316.26 655.79,315.17 C657.76,314.07 659.50,313.09 661.03,312.55 C662.56,312.00 663.43,311.67 664.96,311.89 C666.49,312.11 668.46,313.27 670.20,313.86 C671.95,314.45 673.48,314.99 675.44,315.43 C677.41,315.86 679.81,315.97 681.99,316.48 C684.18,316.98 686.36,317.79 688.55,318.44 C690.73,319.10 692.91,319.75 695.10,320.41 C697.28,321.06 699.46,321.89 701.65,322.37 C703.83,322.85 706.01,323.18 708.20,323.29 C710.38,323.40 712.57,323.40 714.75,323.03 C716.93,322.66 719.12,321.93 721.30,321.06 C723.48,320.19 725.67,318.88 727.85,317.79 C730.03,316.69 732.33,315.60 734.40,314.51 C736.48,313.42 739.31,311.78 740.30,311.24" stroke-width="1.35" stroke-dasharray="2.4 1.6"/>
<path d="M548.62,326.70 C549.93,326.56 553.86,326.26 556.48,325.91 C559.10,325.56 561.72,325.19 564.34,324.60 C566.96,324.01 570.02,323.18 572.20,322.37 C574.39,321.56 575.92,320.95 577.44,319.75 C578.97,318.55 580.17,317.24 581.37,315.17 C582.58,313.09 583.56,309.93 584.65,307.30 C585.74,304.68 586.83,301.63 587.93,299.44 C589.02,297.26 590.22,295.40 591.20,294.20 C592.18,293.00 592.95,292.46 593.82,292.24 C594.69,292.02 595.46,292.35 596.44,292.89 C597.42,293.44 598.52,294.20 599.72,295.51 C600.92,296.82 602.34,298.79 603.65,300.75 C604.96,302.72 606.27,305.12 607.58,307.30 C608.89,309.49 610.20,312.00 611.51,313.86 C612.82,315.71 613.91,317.13 615.44,318.44 C616.97,319.75 618.93,320.91 620.68,321.72 C622.43,322.52 624.17,322.96 625.92,323.29 C627.67,323.62 629.41,323.77 631.16,323.68 C632.91,323.59 634.87,323.09 636.40,322.76 C637.93,322.44 639.10,322.11 640.33,321.72 C641.57,321.32 642.32,321.17 643.80,320.41 C645.29,319.64 647.24,318.40 649.24,317.13 C651.24,315.86 653.83,314.05 655.79,312.81 C657.76,311.56 659.50,310.36 661.03,309.66 C662.56,308.96 663.43,308.46 664.96,308.61 C666.49,308.77 668.46,309.82 670.20,310.58 C671.95,311.34 673.48,312.61 675.44,313.20 C677.41,313.79 679.81,313.53 681.99,314.12 C684.18,314.71 686.36,315.80 688.55,316.74 C690.73,317.68 692.91,318.88 695.10,319.75 C697.28,320.62 699.46,321.43 701.65,321.98 C703.83,322.52 706.01,322.90 708.20,323.03 C710.38,323.16 712.57,323.20 714.75,322.76 C716.93,322.33 719.12,321.45 721.30,320.41 C723.48,319.36 725.67,317.90 727.85,316.48 C730.03,315.06 732.33,313.31 734.40,311.89 C736.48,310.47 739.31,308.61 740.30,307.96" stroke-width="1.4"/>
</g>
</g>
<clipPath id="clipc5"><rect x="548.50" y="269.54" width="192.50" height="58.25"/></clipPath>
<text x="635.10" y="289.34" font-size="14.6" font-weight="bold" fill="#000">NiPc</text>
<g stroke="#1a1a1a" stroke-width="0.9">
<path d="M560.53,334.90v2.20M560.53,391.95v-2.20"/>
<path d="M572.56,334.90v3.60M572.56,391.95v-3.60"/>
<path d="M584.59,334.90v2.20M584.59,391.95v-2.20"/>
<path d="M596.62,334.90v3.60M596.62,391.95v-3.60"/>
<path d="M608.66,334.90v2.20M608.66,391.95v-2.20"/>
<path d="M620.69,334.90v3.60M620.69,391.95v-3.60"/>
<path d="M632.72,334.90v2.20M632.72,391.95v-2.20"/>
<path d="M644.75,334.90v3.60M644.75,391.95v-3.60"/>
<path d="M656.78,334.90v2.20M656.78,391.95v-2.20"/>
<path d="M668.81,334.90v3.60M668.81,391.95v-3.60"/>
<path d="M680.84,334.90v2.20M680.84,391.95v-2.20"/>
<path d="M692.88,334.90v3.60M692.88,391.95v-3.60"/>
<path d="M704.91,334.90v2.20M704.91,391.95v-2.20"/>
<path d="M716.94,334.90v3.60M716.94,391.95v-3.60"/>
<path d="M728.97,334.90v2.20M728.97,391.95v-2.20"/>
<path d="M548.50,342.90h4.6M741.00,342.90h-4.6"/>
<path d="M548.50,359.10h4.6M741.00,359.10h-4.6"/>
<path d="M548.50,375.40h4.6M741.00,375.40h-4.6"/>
<path d="M548.50,351.00h2.6M741.00,351.00h-2.6"/>
<path d="M548.50,367.20h2.6M741.00,367.20h-2.6"/>
<path d="M548.50,383.50h2.6M741.00,383.50h-2.6"/>
</g>
<rect x="548.50" y="334.90" width="192.50" height="57.05" fill="none" stroke="#111" stroke-width="1.05"/>
<g clip-path="url(#clipc6)">
<g fill="none" stroke="#ff0000" stroke-linejoin="round">
<path d="M548.62,390.65 C549.49,390.60 552.11,390.49 553.86,390.39 C555.61,390.28 557.35,390.12 559.10,389.99 C560.85,389.86 562.60,389.75 564.34,389.60 C566.09,389.45 567.84,389.34 569.58,389.07 C571.33,388.81 573.40,389.07 574.82,388.03 C576.24,386.98 577.18,385.41 578.10,382.79 C579.02,380.17 579.67,376.02 580.33,372.30 C580.98,368.59 581.42,363.46 582.03,360.51 C582.64,357.57 583.34,355.38 583.99,354.62 C584.65,353.85 585.20,355.27 585.96,355.93 C586.72,356.58 587.71,359.53 588.58,358.55 C589.45,357.57 590.33,352.76 591.20,350.03 C592.07,347.30 593.10,344.03 593.82,342.17 C594.54,340.32 594.93,338.90 595.52,338.90 C596.11,338.90 596.77,340.32 597.36,342.17 C597.95,344.03 598.45,347.19 599.06,350.03 C599.67,352.87 600.26,355.71 601.03,359.20 C601.79,362.70 602.66,367.50 603.65,370.99 C604.63,374.49 605.83,377.65 606.92,380.17 C608.01,382.68 609.00,384.58 610.20,386.06 C611.40,387.55 612.60,388.42 614.13,389.07 C615.66,389.73 617.40,389.84 619.37,389.99 C621.33,390.14 623.74,390.06 625.92,389.99 C628.10,389.93 630.51,389.75 632.47,389.60 C634.44,389.45 635.82,389.34 637.71,389.07 C639.60,388.81 641.88,388.46 643.80,388.03 C645.73,387.59 647.46,387.33 649.24,386.45 C651.02,385.58 652.73,384.93 654.48,382.79 C656.23,380.65 657.98,376.89 659.72,373.61 C661.47,370.34 663.22,365.86 664.96,363.13 C666.71,360.40 668.67,358.37 670.20,357.24 C671.73,356.10 672.61,355.99 674.13,356.32 C675.66,356.65 677.41,357.63 679.37,359.20 C681.34,360.78 683.74,363.57 685.93,365.75 C688.11,367.94 690.29,370.56 692.48,372.30 C694.66,374.05 696.84,375.36 699.03,376.24 C701.21,377.11 703.39,377.55 705.58,377.55 C707.76,377.55 709.73,376.72 712.13,376.24 C714.53,375.75 717.37,375.21 719.99,374.66 C722.61,374.12 725.45,373.46 727.85,372.96 C730.25,372.46 732.33,371.98 734.40,371.65 C736.48,371.32 739.31,371.10 740.30,370.99" stroke-width="1.15" stroke-dasharray="0.01 2.05" stroke-linecap="round"/>
<path d="M548.62,390.65 C549.49,390.65 552.11,390.65 553.86,390.65 C555.61,390.65 557.35,390.65 559.10,390.65 C560.85,390.65 562.60,390.69 564.34,390.65 C566.09,390.60 567.84,390.60 569.58,390.39 C571.33,390.17 573.08,389.95 574.82,389.34 C576.57,388.73 578.32,387.48 580.06,386.72 C581.81,385.95 583.78,385.41 585.30,384.75 C586.83,384.10 588.03,383.22 589.24,382.79 C590.44,382.35 591.42,382.13 592.51,382.13 C593.60,382.13 594.59,382.35 595.79,382.79 C596.99,383.22 598.41,384.21 599.72,384.75 C601.03,385.30 602.34,385.73 603.65,386.06 C604.96,386.39 606.27,386.39 607.58,386.72 C608.89,387.04 610.20,387.55 611.51,388.03 C612.82,388.51 613.91,389.16 615.44,389.60 C616.97,390.04 618.93,390.47 620.68,390.65 C622.43,390.82 623.95,390.69 625.92,390.65 C627.89,390.60 630.51,390.56 632.47,390.39 C634.44,390.21 635.82,389.88 637.71,389.60 C639.60,389.32 641.88,389.05 643.80,388.68 C645.73,388.31 647.24,387.66 649.24,387.37 C651.24,387.09 653.61,386.76 655.79,386.98 C657.98,387.20 659.94,388.18 662.34,388.68 C664.74,389.18 667.58,389.71 670.20,389.99 C672.82,390.28 675.44,390.28 678.06,390.39 C680.68,390.49 683.30,390.60 685.93,390.65 C688.55,390.69 691.17,390.65 693.79,390.65 C696.41,390.65 699.03,390.65 701.65,390.65 C704.27,390.65 706.89,390.76 709.51,390.65 C712.13,390.54 714.75,390.32 717.37,389.99 C719.99,389.66 722.61,389.23 725.23,388.68 C727.85,388.14 730.58,387.37 733.09,386.72 C735.60,386.06 739.10,385.08 740.30,384.75" stroke-width="1.2" stroke-dasharray="3 1.3 1 1.3"/>
<path d="M548.62,390.65 C549.49,390.54 552.11,390.25 553.86,389.99 C555.61,389.73 557.35,389.40 559.10,389.07 C560.85,388.75 562.60,388.64 564.34,388.03 C566.09,387.42 568.05,386.39 569.58,385.41 C571.11,384.42 572.20,383.66 573.51,382.13 C574.82,380.60 576.24,378.64 577.44,376.24 C578.64,373.83 579.74,369.68 580.72,367.72 C581.70,365.75 582.36,365.32 583.34,364.44 C584.32,363.57 585.52,363.24 586.61,362.48 C587.71,361.71 588.91,360.40 589.89,359.86 C590.87,359.31 591.53,358.98 592.51,359.20 C593.49,359.42 594.69,360.19 595.79,361.17 C596.88,362.15 597.97,364.07 599.06,365.10 C600.15,366.13 601.25,366.82 602.34,367.33 C603.43,367.83 604.52,367.83 605.61,368.11 C606.70,368.40 607.91,368.44 608.89,369.03 C609.87,369.62 610.42,370.06 611.51,371.65 C612.60,373.24 614.13,376.78 615.44,378.59 C616.75,380.41 618.06,381.52 619.37,382.52 C620.68,383.53 621.99,384.10 623.30,384.62 C624.61,385.14 625.92,385.49 627.23,385.67 C628.54,385.84 629.85,385.84 631.16,385.67 C632.47,385.49 633.78,385.19 635.09,384.62 C636.40,384.05 637.57,383.35 639.02,382.26 C640.47,381.17 642.10,379.25 643.80,378.07 C645.51,376.89 647.68,375.75 649.24,375.19 C650.80,374.62 651.64,374.31 653.17,374.66 C654.70,375.01 656.66,376.37 658.41,377.28 C660.16,378.20 661.69,379.20 663.65,380.17 C665.62,381.13 668.02,382.44 670.20,383.05 C672.39,383.66 674.57,383.77 676.75,383.83 C678.94,383.90 681.12,383.40 683.30,383.44 C685.49,383.48 687.67,383.81 689.86,384.10 C692.04,384.38 694.22,384.71 696.41,385.14 C698.59,385.58 700.77,386.45 702.96,386.72 C705.14,386.98 707.32,387.04 709.51,386.72 C711.69,386.39 713.88,385.52 716.06,384.75 C718.24,383.99 720.43,383.33 722.61,382.13 C724.79,380.93 726.98,379.18 729.16,377.55 C731.34,375.91 733.86,373.61 735.71,372.30 C737.57,370.99 739.53,370.12 740.30,369.68" stroke-width="1.35" stroke-dasharray="2.4 1.6"/>
<path d="M548.62,390.39 C549.49,390.25 552.11,389.88 553.86,389.60 C555.61,389.32 557.35,389.05 559.10,388.68 C560.85,388.31 562.60,388.03 564.34,387.37 C566.09,386.72 568.05,385.84 569.58,384.75 C571.11,383.66 572.20,382.68 573.51,380.82 C574.82,378.96 576.24,376.02 577.44,373.61 C578.64,371.21 579.63,368.27 580.72,366.41 C581.81,364.55 582.90,363.46 583.99,362.48 C585.09,361.50 586.18,361.82 587.27,360.51 C588.36,359.20 589.45,356.26 590.55,354.62 C591.64,352.98 592.84,351.41 593.82,350.69 C594.80,349.97 595.46,350.08 596.44,350.29 C597.42,350.51 598.52,350.95 599.72,352.00 C600.92,353.05 602.34,354.73 603.65,356.58 C604.96,358.44 606.27,360.73 607.58,363.13 C608.89,365.54 610.20,368.59 611.51,370.99 C612.82,373.40 614.13,375.80 615.44,377.55 C616.75,379.29 618.06,380.43 619.37,381.48 C620.68,382.52 621.99,383.22 623.30,383.83 C624.61,384.45 625.92,384.93 627.23,385.14 C628.54,385.36 629.85,385.32 631.16,385.14 C632.47,384.97 633.78,384.71 635.09,384.10 C636.40,383.48 637.57,382.62 639.02,381.48 C640.47,380.33 642.10,378.35 643.80,377.22 C645.51,376.08 647.90,375.15 649.24,374.66 C650.58,374.17 650.55,374.01 651.86,374.27 C653.17,374.53 655.14,375.47 657.10,376.24 C659.07,377.00 661.47,377.94 663.65,378.86 C665.84,379.77 668.02,381.04 670.20,381.74 C672.39,382.44 674.57,382.83 676.75,383.05 C678.94,383.27 681.12,382.98 683.30,383.05 C685.49,383.11 687.67,383.22 689.86,383.44 C692.04,383.66 694.22,383.92 696.41,384.36 C698.59,384.80 700.77,385.78 702.96,386.06 C705.14,386.35 707.32,386.39 709.51,386.06 C711.69,385.73 713.88,384.97 716.06,384.10 C718.24,383.22 720.43,382.24 722.61,380.82 C724.79,379.40 726.98,377.33 729.16,375.58 C731.34,373.83 733.86,371.65 735.71,370.34 C737.57,369.03 739.53,368.16 740.30,367.72" stroke-width="1.4"/>
</g>
</g>
<clipPath id="clipc6"><rect x="548.50" y="334.30" width="192.50" height="58.25"/></clipPath>
<text x="635.40" y="354.30" font-size="14.6" font-weight="bold" fill="#000">CuPc</text>
<g stroke="#1a1a1a" stroke-width="0.9">
<path d="M560.53,399.66v2.20M560.53,456.71v-2.20"/>
<path d="M572.56,399.66v3.60M572.56,456.71v-3.60"/>
<path d="M584.59,399.66v2.20M584.59,456.71v-2.20"/>
<path d="M596.62,399.66v3.60M596.62,456.71v-3.60"/>
<path d="M608.66,399.66v2.20M608.66,456.71v-2.20"/>
<path d="M620.69,399.66v3.60M620.69,456.71v-3.60"/>
<path d="M632.72,399.66v2.20M632.72,456.71v-2.20"/>
<path d="M644.75,399.66v3.60M644.75,456.71v-3.60"/>
<path d="M656.78,399.66v2.20M656.78,456.71v-2.20"/>
<path d="M668.81,399.66v3.60M668.81,456.71v-3.60"/>
<path d="M680.84,399.66v2.20M680.84,456.71v-2.20"/>
<path d="M692.88,399.66v3.60M692.88,456.71v-3.60"/>
<path d="M704.91,399.66v2.20M704.91,456.71v-2.20"/>
<path d="M716.94,399.66v3.60M716.94,456.71v-3.60"/>
<path d="M728.97,399.66v2.20M728.97,456.71v-2.20"/>
<path d="M548.50,412.30h4.6M741.00,412.30h-4.6"/>
<path d="M548.50,430.20h4.6M741.00,430.20h-4.6"/>
<path d="M548.50,447.80h4.6M741.00,447.80h-4.6"/>
<path d="M548.50,403.40h2.6M741.00,403.40h-2.6"/>
<path d="M548.50,421.10h2.6M741.00,421.10h-2.6"/>
<path d="M548.50,439.00h2.6M741.00,439.00h-2.6"/>
</g>
<rect x="548.50" y="399.66" width="192.50" height="57.05" fill="none" stroke="#111" stroke-width="1.05"/>
<g clip-path="url(#clipc7)">
<g fill="none" stroke="#008c00" stroke-linejoin="round">
<path d="M548.62,455.70 C549.49,455.63 552.11,455.48 553.86,455.30 C555.61,455.13 557.35,454.87 559.10,454.65 C560.85,454.43 562.60,454.32 564.34,453.99 C566.09,453.66 567.95,453.45 569.58,452.68 C571.22,451.92 572.86,450.83 574.17,449.41 C575.48,447.99 576.35,446.35 577.44,444.17 C578.54,441.98 579.74,438.49 580.72,436.30 C581.70,434.12 582.47,431.28 583.34,431.06 C584.21,430.85 585.15,433.90 585.96,434.99 C586.77,436.09 587.42,438.27 588.19,437.61 C588.95,436.96 589.82,434.12 590.55,431.06 C591.27,428.01 591.86,422.77 592.51,419.27 C593.17,415.78 593.82,412.83 594.48,410.10 C595.13,407.37 595.83,403.33 596.44,402.90 C597.05,402.46 597.60,405.19 598.14,407.48 C598.69,409.77 599.13,413.38 599.72,416.65 C600.31,419.93 600.92,423.64 601.68,427.13 C602.45,430.63 603.32,434.34 604.30,437.61 C605.28,440.89 606.38,444.38 607.58,446.79 C608.78,449.19 609.98,450.83 611.51,452.03 C613.04,453.23 614.78,453.60 616.75,453.99 C618.71,454.39 621.12,454.32 623.30,454.39 C625.48,454.45 627.67,454.45 629.85,454.39 C632.03,454.32 634.08,454.21 636.40,453.99 C638.73,453.77 641.66,453.84 643.80,453.07 C645.94,452.31 647.46,451.55 649.24,449.41 C651.02,447.27 652.95,443.51 654.48,440.24 C656.01,436.96 656.88,432.37 658.41,429.75 C659.94,427.13 661.91,425.06 663.65,424.51 C665.40,423.97 666.93,425.71 668.89,426.48 C670.86,427.24 673.26,428.29 675.44,429.10 C677.63,429.91 679.81,430.34 681.99,431.33 C684.18,432.31 686.36,433.77 688.55,434.99 C690.73,436.22 692.91,437.68 695.10,438.66 C697.28,439.65 699.46,440.24 701.65,440.89 C703.83,441.55 706.01,442.00 708.20,442.59 C710.38,443.18 712.57,443.90 714.75,444.43 C716.93,444.95 719.12,445.45 721.30,445.74 C723.48,446.02 725.67,446.02 727.85,446.13 C730.03,446.24 732.33,446.33 734.40,446.39 C736.48,446.46 739.31,446.50 740.30,446.52" stroke-width="1.15" stroke-dasharray="0.01 2.05" stroke-linecap="round"/>
<path d="M548.62,455.70 C549.49,455.70 552.11,455.70 553.86,455.70 C555.61,455.70 557.35,455.74 559.10,455.70 C560.85,455.65 562.60,455.56 564.34,455.43 C566.09,455.30 567.84,455.15 569.58,454.91 C571.33,454.67 573.08,454.43 574.82,453.99 C576.57,453.56 578.32,453.05 580.06,452.29 C581.81,451.52 583.56,450.43 585.30,449.41 C587.05,448.38 589.02,446.96 590.55,446.13 C592.07,445.30 593.49,444.76 594.48,444.43 C595.46,444.10 595.68,444.03 596.44,444.17 C597.21,444.30 598.08,444.67 599.06,445.21 C600.04,445.76 601.14,446.52 602.34,447.44 C603.54,448.36 604.96,449.78 606.27,450.72 C607.58,451.66 608.67,452.46 610.20,453.07 C611.73,453.69 613.69,454.12 615.44,454.39 C617.19,454.65 618.93,454.60 620.68,454.65 C622.43,454.69 623.95,454.65 625.92,454.65 C627.89,454.65 630.51,454.76 632.47,454.65 C634.44,454.54 635.82,454.21 637.71,453.99 C639.60,453.77 641.88,453.77 643.80,453.34 C645.73,452.90 647.35,452.03 649.24,451.37 C651.13,450.72 653.17,449.47 655.14,449.41 C657.10,449.34 658.96,450.28 661.03,450.98 C663.11,451.68 665.40,453.03 667.58,453.60 C669.77,454.17 671.51,454.21 674.13,454.39 C676.75,454.56 680.03,454.60 683.30,454.65 C686.58,454.69 690.51,454.69 693.79,454.65 C697.06,454.60 699.90,454.49 702.96,454.39 C706.01,454.28 709.29,454.39 712.13,453.99 C714.97,453.60 717.59,452.62 719.99,452.03 C722.39,451.44 724.36,450.89 726.54,450.45 C728.72,450.02 730.80,449.62 733.09,449.41 C735.38,449.19 739.10,449.19 740.30,449.14" stroke-width="1.2" stroke-dasharray="3 1.3 1 1.3"/>
<path d="M548.62,455.70 C549.49,455.63 552.11,455.52 553.86,455.30 C555.61,455.08 557.35,454.76 559.10,454.39 C560.85,454.01 562.60,453.69 564.34,453.07 C566.09,452.46 567.95,451.66 569.58,450.72 C571.22,449.78 572.75,448.86 574.17,447.44 C575.59,446.02 576.90,444.49 578.10,442.20 C579.30,439.91 580.39,436.63 581.37,433.68 C582.36,430.74 583.12,427.57 583.99,424.51 C584.87,421.46 585.74,417.53 586.61,415.34 C587.49,413.16 588.25,412.18 589.24,411.41 C590.22,410.65 591.42,410.76 592.51,410.76 C593.60,410.76 594.80,410.87 595.79,411.41 C596.77,411.96 597.53,412.61 598.41,414.03 C599.28,415.45 600.04,417.09 601.03,419.93 C602.01,422.77 603.21,427.68 604.30,431.06 C605.39,434.45 606.38,437.72 607.58,440.24 C608.78,442.75 610.20,444.60 611.51,446.13 C612.82,447.66 613.91,448.53 615.44,449.41 C616.97,450.28 618.93,450.93 620.68,451.37 C622.43,451.81 624.17,451.96 625.92,452.03 C627.67,452.09 629.41,452.03 631.16,451.76 C632.91,451.50 634.87,450.96 636.40,450.45 C637.93,449.95 639.10,449.25 640.33,448.75 C641.57,448.25 642.32,448.31 643.80,447.44 C645.29,446.57 647.24,444.93 649.24,443.51 C651.24,442.09 653.83,440.13 655.79,438.93 C657.76,437.72 659.50,436.30 661.03,436.30 C662.56,436.30 663.43,437.61 664.96,438.93 C666.49,440.24 668.24,442.59 670.20,444.17 C672.17,445.74 674.57,447.27 676.75,448.36 C678.94,449.45 681.12,450.11 683.30,450.72 C685.49,451.33 687.67,451.81 689.86,452.03 C692.04,452.25 694.22,452.25 696.41,452.03 C698.59,451.81 700.77,451.26 702.96,450.72 C705.14,450.17 707.54,449.52 709.51,448.75 C711.47,447.99 713.00,447.22 714.75,446.13 C716.50,445.04 718.24,443.58 719.99,442.20 C721.74,440.82 723.48,439.19 725.23,437.88 C726.98,436.57 728.72,435.37 730.47,434.34 C732.22,433.31 734.07,432.31 735.71,431.72 C737.35,431.13 739.53,430.95 740.30,430.80" stroke-width="1.35" stroke-dasharray="2.4 1.6"/>
<path d="M548.62,455.30 C549.49,455.19 552.11,454.93 553.86,454.65 C555.61,454.36 557.35,454.04 559.10,453.60 C560.85,453.16 562.60,452.73 564.34,452.03 C566.09,451.33 567.95,450.50 569.58,449.41 C571.22,448.31 572.75,447.22 574.17,445.48 C575.59,443.73 576.90,441.55 578.10,438.93 C579.30,436.30 580.39,432.92 581.37,429.75 C582.36,426.59 583.12,422.98 583.99,419.93 C584.87,416.87 585.85,413.38 586.61,411.41 C587.38,409.45 587.93,408.79 588.58,408.14 C589.24,407.48 589.78,407.26 590.55,407.48 C591.31,407.70 592.18,408.90 593.17,409.45 C594.15,409.99 595.46,410.10 596.44,410.76 C597.42,411.41 598.19,411.96 599.06,413.38 C599.93,414.80 600.70,416.76 601.68,419.27 C602.66,421.78 603.87,425.39 604.96,428.44 C606.05,431.50 607.14,434.99 608.23,437.61 C609.32,440.24 610.31,442.42 611.51,444.17 C612.71,445.91 613.91,447.05 615.44,448.10 C616.97,449.14 618.93,449.91 620.68,450.45 C622.43,451.00 624.17,451.28 625.92,451.37 C627.67,451.46 629.41,451.31 631.16,450.98 C632.91,450.65 634.87,450.00 636.40,449.41 C637.93,448.82 639.10,448.05 640.33,447.44 C641.57,446.83 642.32,446.61 643.80,445.74 C645.29,444.86 647.24,443.38 649.24,442.20 C651.24,441.02 653.72,439.82 655.79,438.66 C657.87,437.51 660.16,435.69 661.69,435.26 C663.22,434.82 663.54,435.21 664.96,436.04 C666.38,436.87 668.24,438.66 670.20,440.24 C672.17,441.81 674.57,443.95 676.75,445.48 C678.94,447.00 681.12,448.42 683.30,449.41 C685.49,450.39 687.67,450.98 689.86,451.37 C692.04,451.76 694.22,451.87 696.41,451.76 C698.59,451.66 700.77,451.33 702.96,450.72 C705.14,450.11 707.54,449.19 709.51,448.10 C711.47,447.00 713.00,445.91 714.75,444.17 C716.50,442.42 718.24,439.58 719.99,437.61 C721.74,435.65 723.48,433.73 725.23,432.37 C726.98,431.02 728.72,430.10 730.47,429.49 C732.22,428.88 734.07,428.55 735.71,428.71 C737.35,428.86 739.53,430.13 740.30,430.41" stroke-width="1.4"/>
</g>
</g>
<clipPath id="clipc7"><rect x="548.50" y="399.06" width="192.50" height="58.25"/></clipPath>
<text x="635.20" y="418.76" font-size="14.6" font-weight="bold" fill="#000">ZnPc</text>
<text x="548.50" y="468.20" font-size="9.7" text-anchor="middle" font-weight="bold" fill="#111">1.0</text>
<text x="572.56" y="468.20" font-size="9.7" text-anchor="middle" font-weight="bold" fill="#111">1.5</text>
<text x="596.62" y="468.20" font-size="9.7" text-anchor="middle" font-weight="bold" fill="#111">2.0</text>
<text x="620.69" y="468.20" font-size="9.7" text-anchor="middle" font-weight="bold" fill="#111">2.5</text>
<text x="644.75" y="468.20" font-size="9.7" text-anchor="middle" font-weight="bold" fill="#111">3.0</text>
<text x="668.81" y="468.20" font-size="9.7" text-anchor="middle" font-weight="bold" fill="#111">3.5</text>
<text x="692.88" y="468.20" font-size="9.7" text-anchor="middle" font-weight="bold" fill="#111">4.0</text>
<text x="716.94" y="468.20" font-size="9.7" text-anchor="middle" font-weight="bold" fill="#111">4.5</text>
<text x="741.00" y="468.20" font-size="9.7" text-anchor="middle" font-weight="bold" fill="#111">5.0</text>
<path d="M92.30,85.40H114.10" stroke="#000" stroke-width="1.4"/>
<path d="M92.30,97.30H114.10" stroke="#000" stroke-width="1.3" stroke-dasharray="0.01 2.05" stroke-linecap="round"/>
<text x="116.30" y="87.50" font-size="10.1" fill="#000">in plane</text>
<text x="116.30" y="99.60" font-size="10.1" fill="#000">out of plane</text>
<path d="M311.90,84.60H333.80" stroke="#000" stroke-width="1.4"/>
<path d="M311.90,96.50H333.80" stroke="#000" stroke-width="1.3" stroke-dasharray="0.01 2.05" stroke-linecap="round"/>
<text x="337.10" y="87.10" font-size="10.1" fill="#000">in plane</text>
<text x="337.10" y="99.50" font-size="10.1" fill="#000">out of plane</text>
<text x="115.0" y="483.6" font-size="11.3" fill="#111">Energy / eV</text>
<text x="370.9" y="483.6" font-size="11.3" fill="#111">Energy / eV</text>
<text x="611.6" y="481.4" font-size="10.9" font-weight="bold" fill="#000">Energy / eV</text>
<text x="103.60" y="512.30" font-size="20" style="font-family:'Liberation Serif',serif;stroke-width:0.12px" fill="#111">(</text><text x="110.20" y="512.30" font-size="18" style="font-family:'Liberation Serif',serif;stroke-width:0.12px" fill="#111">a</text><text x="126.00" y="512.30" font-size="20" style="font-family:'Liberation Serif',serif;stroke-width:0.12px" fill="#111" text-anchor="end">)</text>
<text x="390.70" y="512.30" font-size="20" style="font-family:'Liberation Serif',serif;stroke-width:0.12px" fill="#111">(</text><text x="396.80" y="512.30" font-size="18" style="font-family:'Liberation Serif',serif;stroke-width:0.12px" fill="#111">b</text><text x="413.70" y="512.30" font-size="20" style="font-family:'Liberation Serif',serif;stroke-width:0.12px" fill="#111" text-anchor="end">)</text>
<text x="632.80" y="507.40" font-size="19.7" style="font-family:'Liberation Serif',serif;stroke-width:0.12px" fill="#111">(</text><text x="638.20" y="506.80" font-size="17.2" style="font-family:'Liberation Serif',serif;stroke-width:0.12px" fill="#111">c</text><text x="652.50" y="507.40" font-size="19.7" style="font-family:'Liberation Serif',serif;stroke-width:0.12px" fill="#111" text-anchor="end">)</text>
<g transform="translate(21.00,241.50) rotate(-90) scale(1.2,1)"><text x="0" y="0" font-size="21" font-style="italic" style="font-family:'Liberation Serif',serif;stroke-width:0.45px" fill="#000">&#949;</text></g><path d="M20.60,228.90H30.10M20.70,228.90L23.20,231.50" stroke="#000" stroke-width="1.35" fill="none"/>
<g transform="translate(279.90,239.30) rotate(-90) scale(1.2,1)"><text x="0" y="0" font-size="21" font-style="italic" style="font-family:'Liberation Serif',serif;stroke-width:0.45px" fill="#000">&#949;</text></g><g transform="translate(290.00,231.80) rotate(-90)"><text x="0" y="0" font-size="14.5" fill="#000" style="stroke-width:0.45px">2</text></g>
<g transform="translate(531.90,240.00) rotate(-90) scale(1.2,1)"><text x="0" y="0" font-size="21" font-style="italic" style="font-family:'Liberation Serif',serif;stroke-width:0.45px" fill="#000">&#949;</text></g><g transform="translate(541.90,231.80) rotate(-90)"><text x="0" y="0" font-size="14.5" fill="#000" style="stroke-width:0.45px">2</text></g>
</svg></body></html>
